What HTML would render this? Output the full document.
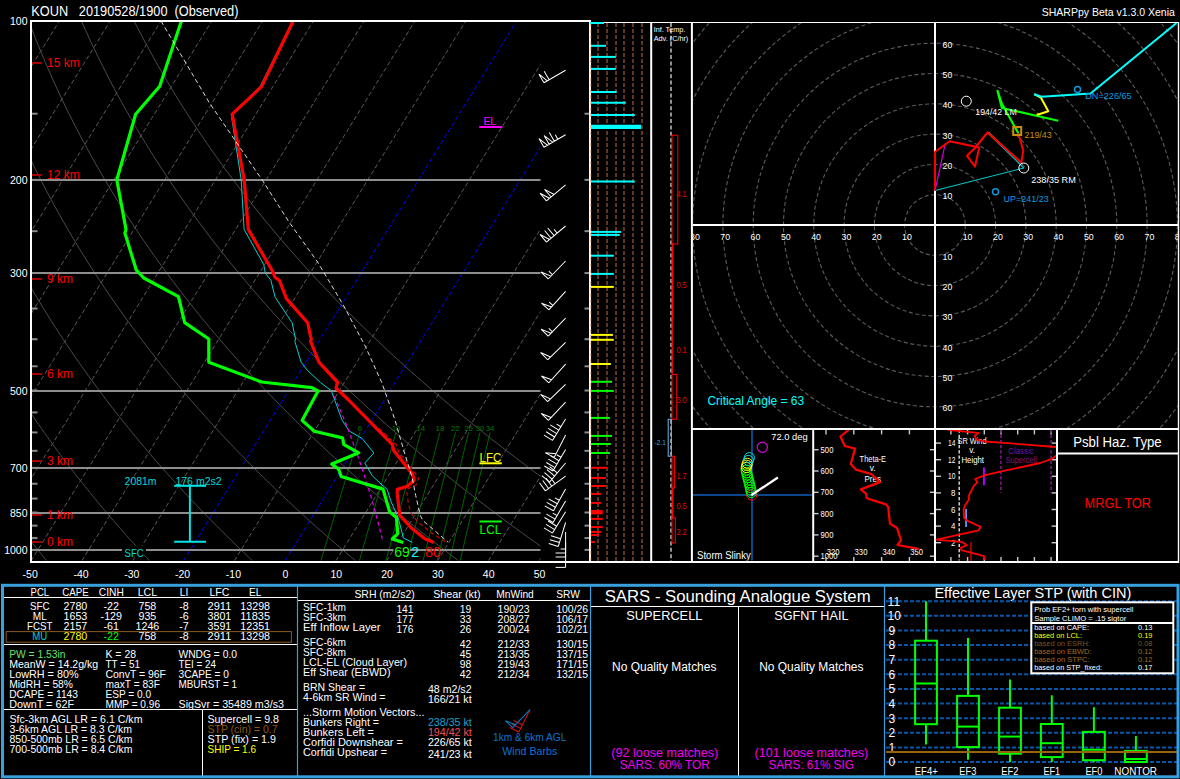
<!DOCTYPE html>
<html><head><meta charset="utf-8"><title>SHARPpy KOUN 20190528/1900</title>
<style>html,body{margin:0;padding:0;background:#000;overflow:hidden}svg{display:block}text{font-family:"Liberation Sans",sans-serif;white-space:pre}</style></head>
<body>
<svg width="1180" height="779" viewBox="0 0 1180 779">
<rect x="0" y="0" width="1180" height="779" fill="#000"/>
<clipPath id="cs"><rect x="32" y="21.5" width="508.5" height="539"/></clipPath>
<clipPath id="cf"><rect x="32" y="21.5" width="557" height="539"/></clipPath>
<g clip-path="url(#cs)">
<line x1="-527.8" y1="561" x2="-194.31" y2="20.5" stroke="#5a5a5a" stroke-width="1" stroke-dasharray="4.5 2.6" />
<line x1="-477" y1="561" x2="-143.51" y2="20.5" stroke="#5a5a5a" stroke-width="1" stroke-dasharray="4.5 2.6" />
<line x1="-426.2" y1="561" x2="-92.71" y2="20.5" stroke="#5a5a5a" stroke-width="1" stroke-dasharray="4.5 2.6" />
<line x1="-375.4" y1="561" x2="-41.91" y2="20.5" stroke="#5a5a5a" stroke-width="1" stroke-dasharray="4.5 2.6" />
<line x1="-324.6" y1="561" x2="8.89" y2="20.5" stroke="#5a5a5a" stroke-width="1" stroke-dasharray="4.5 2.6" />
<line x1="-273.8" y1="561" x2="59.69" y2="20.5" stroke="#5a5a5a" stroke-width="1" stroke-dasharray="4.5 2.6" />
<line x1="-223" y1="561" x2="110.49" y2="20.5" stroke="#5a5a5a" stroke-width="1" stroke-dasharray="4.5 2.6" />
<line x1="-172.2" y1="561" x2="161.29" y2="20.5" stroke="#5a5a5a" stroke-width="1" stroke-dasharray="4.5 2.6" />
<line x1="-121.4" y1="561" x2="212.09" y2="20.5" stroke="#5a5a5a" stroke-width="1" stroke-dasharray="4.5 2.6" />
<line x1="-70.6" y1="561" x2="262.89" y2="20.5" stroke="#5a5a5a" stroke-width="1" stroke-dasharray="4.5 2.6" />
<line x1="-19.8" y1="561" x2="313.69" y2="20.5" stroke="#5a5a5a" stroke-width="1" stroke-dasharray="4.5 2.6" />
<line x1="31" y1="561" x2="364.49" y2="20.5" stroke="#5a5a5a" stroke-width="1" stroke-dasharray="4.5 2.6" />
<line x1="81.8" y1="561" x2="415.29" y2="20.5" stroke="#5a5a5a" stroke-width="1" stroke-dasharray="4.5 2.6" />
<line x1="132.6" y1="561" x2="466.09" y2="20.5" stroke="#5a5a5a" stroke-width="1" stroke-dasharray="4.5 2.6" />
<line x1="183.4" y1="561" x2="516.89" y2="20.5" stroke="#0000ff" stroke-width="1" stroke-dasharray="4.5 2.6" />
<line x1="234.2" y1="561" x2="567.69" y2="20.5" stroke="#5a5a5a" stroke-width="1" stroke-dasharray="4.5 2.6" />
<line x1="285" y1="561" x2="618.49" y2="20.5" stroke="#0000ff" stroke-width="1" stroke-dasharray="4.5 2.6" />
<line x1="335.8" y1="561" x2="669.29" y2="20.5" stroke="#5a5a5a" stroke-width="1" stroke-dasharray="4.5 2.6" />
<line x1="386.6" y1="561" x2="720.09" y2="20.5" stroke="#5a5a5a" stroke-width="1" stroke-dasharray="4.5 2.6" />
<line x1="437.4" y1="561" x2="770.89" y2="20.5" stroke="#5a5a5a" stroke-width="1" stroke-dasharray="4.5 2.6" />
<line x1="488.2" y1="561" x2="821.69" y2="20.5" stroke="#5a5a5a" stroke-width="1" stroke-dasharray="4.5 2.6" />
<line x1="539" y1="561" x2="872.49" y2="20.5" stroke="#5a5a5a" stroke-width="1" stroke-dasharray="4.5 2.6" />
<polyline points="46.86,561.08 45.08,558.88 43.29,556.66 41.49,554.42 39.69,552.15 37.87,549.86 36.05,547.55 34.21,545.22 32.37,542.86 30.52,540.48 28.65,538.07 26.78,535.64 24.9,533.18 23.01,530.69 21.11,528.18 19.2,525.64 17.28,523.07 15.35,520.48 13.41,517.85 11.45,515.19 9.49,512.5 7.52,509.78 5.53,507.03 3.53,504.24 1.53,501.42 -0.49,498.56 -2.52,495.67 -4.57,492.74 -6.62,489.78 -8.69,486.77 -10.77,483.73 -12.86,480.64 -14.97,477.51 -17.09,474.34 -19.22,471.13 -21.36,467.86 -23.52,464.56 -25.7,461.2 -27.88,457.79 -30.09,454.34 -32.3,450.83 -34.53,447.26 -36.78,443.64 -39.04,439.96 -41.32,436.23 -43.61,432.43 -45.92,428.56 -48.24,424.63 -50.59,420.63 -52.95,416.56 -55.32,412.42 -57.72,408.2 -60.13,403.91 -62.56,399.53 -65.01,395.06 -67.47,390.51 -69.96,385.87 -72.47,381.12 -74.99,376.28 -77.54,371.34 -80.1,366.29 -82.69,361.12 -85.3,355.84 -87.93,350.43 -90.58,344.89 -93.26,339.21 -95.95,333.39 -98.67,327.42 -101.42,321.29 -104.19,314.99 -106.98,308.51 -109.79,301.85 -112.63,294.98 -115.49,287.91 -118.38,280.61 -121.3,273.07 -124.23,265.28 -127.2,257.21 -130.18,248.85 -133.19,240.17 -136.23,231.16 -139.28,221.77 -142.36,211.99 -145.45,201.77 -148.56,191.07 -151.69,179.85 -154.83,168.06 -157.97,155.63 -161.11,142.49 -164.25,128.55 -167.36,113.72 -170.44,97.85 -173.47,80.82 -176.43,62.42 -179.27,42.41 -181.96,20.5" fill="none" stroke="#4a4a4a" stroke-width="1" stroke-linejoin="round" />
<polyline points="149.89,561.08 147.83,558.88 145.75,556.66 143.67,554.42 141.58,552.15 139.47,549.86 137.35,547.55 135.23,545.22 133.09,542.86 130.94,540.48 128.78,538.07 126.6,535.64 124.42,533.18 122.22,530.69 120.01,528.18 117.79,525.64 115.55,523.07 113.3,520.48 111.04,517.85 108.77,515.19 106.48,512.5 104.18,509.78 101.86,507.03 99.53,504.24 97.19,501.42 94.83,498.56 92.46,495.67 90.07,492.74 87.67,489.78 85.25,486.77 82.81,483.73 80.36,480.64 77.89,477.51 75.41,474.34 72.91,471.13 70.39,467.86 67.86,464.56 65.3,461.2 62.73,457.79 60.14,454.34 57.53,450.83 54.9,447.26 52.26,443.64 49.59,439.96 46.9,436.23 44.19,432.43 41.46,428.56 38.71,424.63 35.94,420.63 33.14,416.56 30.33,412.42 27.48,408.2 24.62,403.91 21.73,399.53 18.81,395.06 15.87,390.51 12.91,385.87 9.91,381.12 6.89,376.28 3.85,371.34 0.77,366.29 -2.33,361.12 -5.47,355.84 -8.63,350.43 -11.83,344.89 -15.06,339.21 -18.32,333.39 -21.61,327.42 -24.94,321.29 -28.31,314.99 -31.71,308.51 -35.14,301.85 -38.61,294.98 -42.13,287.91 -45.68,280.61 -49.27,273.07 -52.9,265.28 -56.57,257.21 -60.29,248.85 -64.05,240.17 -67.85,231.16 -71.7,221.77 -75.59,211.99 -79.53,201.77 -83.51,191.07 -87.54,179.85 -91.61,168.06 -95.72,155.63 -99.87,142.49 -104.06,128.55 -108.27,113.72 -112.51,97.85 -116.75,80.82 -120.99,62.42 -125.2,42.41 -129.34,20.5" fill="none" stroke="#4a4a4a" stroke-width="1" stroke-linejoin="round" />
<polyline points="252.92,561.08 250.57,558.88 248.22,556.66 245.85,554.42 243.47,552.15 241.07,549.86 238.66,547.55 236.24,545.22 233.81,542.86 231.36,540.48 228.9,538.07 226.42,535.64 223.93,533.18 221.43,530.69 218.91,528.18 216.37,525.64 213.82,523.07 211.26,520.48 208.68,517.85 206.08,515.19 203.47,512.5 200.84,509.78 198.2,507.03 195.53,504.24 192.85,501.42 190.16,498.56 187.44,495.67 184.71,492.74 181.96,489.78 179.19,486.77 176.4,483.73 173.59,480.64 170.76,477.51 167.91,474.34 165.04,471.13 162.15,467.86 159.24,464.56 156.3,461.2 153.35,457.79 150.37,454.34 147.37,450.83 144.34,447.26 141.29,443.64 138.22,439.96 135.12,436.23 132,432.43 128.85,428.56 125.67,424.63 122.47,420.63 119.23,416.56 115.97,412.42 112.68,408.2 109.36,403.91 106.01,399.53 102.63,395.06 99.22,390.51 95.77,385.87 92.29,381.12 88.78,376.28 85.23,371.34 81.65,366.29 78.02,361.12 74.36,355.84 70.66,350.43 66.92,344.89 63.14,339.21 59.31,333.39 55.45,327.42 51.53,321.29 47.57,314.99 43.57,308.51 39.51,301.85 35.4,294.98 31.24,287.91 27.03,280.61 22.76,273.07 18.43,265.28 14.05,257.21 9.6,248.85 5.09,240.17 0.52,231.16 -4.12,221.77 -8.83,211.99 -13.61,201.77 -18.47,191.07 -23.39,179.85 -28.4,168.06 -33.48,155.63 -38.64,142.49 -43.87,128.55 -49.19,113.72 -54.57,97.85 -60.03,80.82 -65.55,62.42 -71.12,42.41 -76.71,20.5" fill="none" stroke="#4a4a4a" stroke-width="1" stroke-linejoin="round" />
<polyline points="355.94,561.08 353.32,558.88 350.68,556.66 348.02,554.42 345.35,552.15 342.67,549.86 339.97,547.55 337.26,545.22 334.53,542.86 331.78,540.48 329.02,538.07 326.24,535.64 323.45,533.18 320.64,530.69 317.81,528.18 314.96,525.64 312.1,523.07 309.22,520.48 306.32,517.85 303.4,515.19 300.46,512.5 297.5,509.78 294.53,507.03 291.53,504.24 288.52,501.42 285.48,498.56 282.42,495.67 279.35,492.74 276.25,489.78 273.12,486.77 269.98,483.73 266.81,480.64 263.62,477.51 260.41,474.34 257.17,471.13 253.9,467.86 250.62,464.56 247.3,461.2 243.96,457.79 240.59,454.34 237.2,450.83 233.78,447.26 230.33,443.64 226.85,439.96 223.34,436.23 219.8,432.43 216.23,428.56 212.63,424.63 208.99,420.63 205.32,416.56 201.62,412.42 197.88,408.2 194.11,403.91 190.3,399.53 186.45,395.06 182.57,390.51 178.64,385.87 174.67,381.12 170.67,376.28 166.62,371.34 162.52,366.29 158.38,361.12 154.19,355.84 149.96,350.43 145.67,344.89 141.34,339.21 136.95,333.39 132.51,327.42 128.01,321.29 123.45,314.99 118.84,308.51 114.16,301.85 109.42,294.98 104.61,287.91 99.74,280.61 94.79,273.07 89.77,265.28 84.67,257.21 79.49,248.85 74.24,240.17 68.89,231.16 63.46,221.77 57.93,211.99 52.31,201.77 46.58,191.07 40.76,179.85 34.82,168.06 28.77,155.63 22.6,142.49 16.31,128.55 9.9,113.72 3.36,97.85 -3.31,80.82 -10.11,62.42 -17.04,42.41 -24.09,20.5" fill="none" stroke="#4a4a4a" stroke-width="1" stroke-linejoin="round" />
<polyline points="458.97,561.08 456.06,558.88 453.14,556.66 450.2,554.42 447.24,552.15 444.27,549.86 441.28,547.55 438.27,545.22 435.25,542.86 432.2,540.48 429.14,538.07 426.06,535.64 422.96,533.18 419.84,530.69 416.71,528.18 413.55,525.64 410.37,523.07 407.17,520.48 403.95,517.85 400.71,515.19 397.45,512.5 394.17,509.78 390.86,507.03 387.53,504.24 384.18,501.42 380.81,498.56 377.41,495.67 373.98,492.74 370.53,489.78 367.06,486.77 363.56,483.73 360.04,480.64 356.48,477.51 352.9,474.34 349.3,471.13 345.66,467.86 342,464.56 338.3,461.2 334.58,457.79 330.82,454.34 327.03,450.83 323.22,447.26 319.36,443.64 315.48,439.96 311.56,436.23 307.6,432.43 303.61,428.56 299.58,424.63 295.52,420.63 291.41,416.56 287.27,412.42 283.08,408.2 278.85,403.91 274.59,399.53 270.27,395.06 265.91,390.51 261.51,385.87 257.05,381.12 252.55,376.28 248,371.34 243.39,366.29 238.74,361.12 234.02,355.84 229.25,350.43 224.43,344.89 219.54,339.21 214.58,333.39 209.57,327.42 204.49,321.29 199.33,314.99 194.11,308.51 188.81,301.85 183.44,294.98 177.98,287.91 172.44,280.61 166.82,273.07 161.1,265.28 155.29,257.21 149.39,248.85 143.38,240.17 137.26,231.16 131.04,221.77 124.69,211.99 118.23,201.77 111.63,191.07 104.91,179.85 98.04,168.06 91.02,155.63 83.84,142.49 76.5,128.55 68.99,113.72 61.29,97.85 53.41,80.82 45.32,62.42 37.03,42.41 28.53,20.5" fill="none" stroke="#4a4a4a" stroke-width="1" stroke-linejoin="round" />
<polyline points="561.99,561.08 558.81,558.88 555.6,556.66 552.38,554.42 549.13,552.15 545.87,549.86 542.59,547.55 539.29,545.22 535.97,542.86 532.63,540.48 529.26,538.07 525.88,535.64 522.48,533.18 519.05,530.69 515.61,528.18 512.14,525.64 508.64,523.07 505.13,520.48 501.59,517.85 498.03,515.19 494.44,512.5 490.83,509.78 487.19,507.03 483.53,504.24 479.84,501.42 476.13,498.56 472.39,495.67 468.62,492.74 464.82,489.78 461,486.77 457.14,483.73 453.26,480.64 449.35,477.51 445.4,474.34 441.43,471.13 437.42,467.86 433.38,464.56 429.3,461.2 425.19,457.79 421.05,454.34 416.87,450.83 412.65,447.26 408.4,443.64 404.11,439.96 399.78,436.23 395.41,432.43 390.99,428.56 386.54,424.63 382.04,420.63 377.5,416.56 372.91,412.42 368.28,408.2 363.6,403.91 358.87,399.53 354.09,395.06 349.26,390.51 344.37,385.87 339.43,381.12 334.44,376.28 329.38,371.34 324.27,366.29 319.09,361.12 313.86,355.84 308.55,350.43 303.18,344.89 297.73,339.21 292.22,333.39 286.63,327.42 280.96,321.29 275.21,314.99 269.38,308.51 263.46,301.85 257.45,294.98 251.35,287.91 245.15,280.61 238.84,273.07 232.44,265.28 225.91,257.21 219.28,248.85 212.52,240.17 205.64,231.16 198.62,221.77 191.46,211.99 184.15,201.77 176.68,191.07 169.05,179.85 161.25,168.06 153.26,155.63 145.08,142.49 136.69,128.55 128.08,113.72 119.23,97.85 110.13,80.82 100.76,62.42 91.11,42.41 81.16,20.5" fill="none" stroke="#4a4a4a" stroke-width="1" stroke-linejoin="round" />
<polyline points="665.02,561.08 661.55,558.88 658.06,556.66 654.55,554.42 651.02,552.15 647.47,549.86 643.9,547.55 640.3,545.22 636.69,542.86 633.05,540.48 629.39,538.07 625.7,535.64 621.99,533.18 618.26,530.69 614.5,528.18 610.72,525.64 606.92,523.07 603.08,520.48 599.23,517.85 595.34,515.19 591.43,512.5 587.49,509.78 583.53,507.03 579.53,504.24 575.51,501.42 571.46,498.56 567.37,495.67 563.26,492.74 559.11,489.78 554.94,486.77 550.73,483.73 546.49,480.64 542.21,477.51 537.9,474.34 533.56,471.13 529.17,467.86 524.76,464.56 520.3,461.2 515.81,457.79 511.28,454.34 506.7,450.83 502.09,447.26 497.43,443.64 492.74,439.96 487.99,436.23 483.21,432.43 478.38,428.56 473.5,424.63 468.57,420.63 463.59,416.56 458.56,412.42 453.48,408.2 448.35,403.91 443.16,399.53 437.91,395.06 432.6,390.51 427.24,385.87 421.81,381.12 416.32,376.28 410.77,371.34 405.14,366.29 399.45,361.12 393.69,355.84 387.85,350.43 381.93,344.89 375.93,339.21 369.85,333.39 363.69,327.42 357.44,321.29 351.09,314.99 344.65,308.51 338.11,301.85 331.47,294.98 324.72,287.91 317.85,280.61 310.87,273.07 303.77,265.28 296.54,257.21 289.17,248.85 281.66,240.17 274.01,231.16 266.2,221.77 258.22,211.99 250.07,201.77 241.73,191.07 233.2,179.85 224.47,168.06 215.51,155.63 206.32,142.49 196.88,128.55 187.16,113.72 177.16,97.85 166.85,80.82 156.2,62.42 145.19,42.41 133.78,20.5" fill="none" stroke="#4a4a4a" stroke-width="1" stroke-linejoin="round" />
<line x1="320.73" y1="561.08" x2="359.94" y2="432.43" stroke="#006400" stroke-width="1" />
<text x="359.94" y="430.63" font-size="7.8" fill="#007800" text-anchor="middle" >6</text>
<line x1="359.3" y1="561.08" x2="396.04" y2="432.43" stroke="#006400" stroke-width="1" />
<text x="396.04" y="430.63" font-size="7.8" fill="#007800" text-anchor="middle" >10</text>
<line x1="385.86" y1="561.08" x2="420.85" y2="432.43" stroke="#006400" stroke-width="1" />
<text x="420.85" y="430.63" font-size="7.8" fill="#007800" text-anchor="middle" >14</text>
<line x1="406.28" y1="561.08" x2="439.91" y2="432.43" stroke="#006400" stroke-width="1" />
<text x="439.91" y="430.63" font-size="7.8" fill="#007800" text-anchor="middle" >18</text>
<line x1="422.95" y1="561.08" x2="455.45" y2="432.43" stroke="#006400" stroke-width="1" />
<text x="455.45" y="430.63" font-size="7.8" fill="#007800" text-anchor="middle" >22</text>
<line x1="437.05" y1="561.08" x2="468.59" y2="432.43" stroke="#006400" stroke-width="1" />
<text x="468.59" y="430.63" font-size="7.8" fill="#007800" text-anchor="middle" >26</text>
<line x1="449.29" y1="561.08" x2="479.98" y2="432.43" stroke="#006400" stroke-width="1" />
<text x="479.98" y="430.63" font-size="7.8" fill="#007800" text-anchor="middle" >30</text>
<line x1="460.11" y1="561.08" x2="490.05" y2="432.43" stroke="#006400" stroke-width="1" />
<text x="490.05" y="430.63" font-size="7.8" fill="#007800" text-anchor="middle" >34</text>
</g>
<line x1="32" y1="180" x2="540.5" y2="180" stroke="#8e8e8e" stroke-width="2" />
<line x1="32" y1="273" x2="540.5" y2="273" stroke="#8e8e8e" stroke-width="2" />
<line x1="32" y1="391" x2="540.5" y2="391" stroke="#8e8e8e" stroke-width="2" />
<line x1="32" y1="468" x2="540.5" y2="468" stroke="#8e8e8e" stroke-width="2" />
<line x1="32" y1="513" x2="540.5" y2="513" stroke="#8e8e8e" stroke-width="2" />
<line x1="32" y1="550" x2="540.5" y2="550" stroke="#8e8e8e" stroke-width="2" />
<line x1="32" y1="113.72" x2="37.5" y2="113.72" stroke="#8c8c8c" stroke-width="2" />
<line x1="584.5" y1="113.72" x2="589" y2="113.72" stroke="#8c8c8c" stroke-width="2" />
<line x1="32" y1="179.85" x2="37.5" y2="179.85" stroke="#8c8c8c" stroke-width="2" />
<line x1="584.5" y1="179.85" x2="589" y2="179.85" stroke="#8c8c8c" stroke-width="2" />
<line x1="32" y1="231.16" x2="37.5" y2="231.16" stroke="#8c8c8c" stroke-width="2" />
<line x1="584.5" y1="231.16" x2="589" y2="231.16" stroke="#8c8c8c" stroke-width="2" />
<line x1="32" y1="273.07" x2="37.5" y2="273.07" stroke="#8c8c8c" stroke-width="2" />
<line x1="584.5" y1="273.07" x2="589" y2="273.07" stroke="#8c8c8c" stroke-width="2" />
<line x1="32" y1="308.51" x2="37.5" y2="308.51" stroke="#8c8c8c" stroke-width="2" />
<line x1="584.5" y1="308.51" x2="589" y2="308.51" stroke="#8c8c8c" stroke-width="2" />
<line x1="32" y1="339.21" x2="37.5" y2="339.21" stroke="#8c8c8c" stroke-width="2" />
<line x1="584.5" y1="339.21" x2="589" y2="339.21" stroke="#8c8c8c" stroke-width="2" />
<line x1="32" y1="366.29" x2="37.5" y2="366.29" stroke="#8c8c8c" stroke-width="2" />
<line x1="584.5" y1="366.29" x2="589" y2="366.29" stroke="#8c8c8c" stroke-width="2" />
<line x1="32" y1="390.51" x2="37.5" y2="390.51" stroke="#8c8c8c" stroke-width="2" />
<line x1="584.5" y1="390.51" x2="589" y2="390.51" stroke="#8c8c8c" stroke-width="2" />
<line x1="32" y1="412.42" x2="37.5" y2="412.42" stroke="#8c8c8c" stroke-width="2" />
<line x1="584.5" y1="412.42" x2="589" y2="412.42" stroke="#8c8c8c" stroke-width="2" />
<line x1="32" y1="432.43" x2="37.5" y2="432.43" stroke="#8c8c8c" stroke-width="2" />
<line x1="584.5" y1="432.43" x2="589" y2="432.43" stroke="#8c8c8c" stroke-width="2" />
<line x1="32" y1="450.83" x2="37.5" y2="450.83" stroke="#8c8c8c" stroke-width="2" />
<line x1="584.5" y1="450.83" x2="589" y2="450.83" stroke="#8c8c8c" stroke-width="2" />
<line x1="32" y1="467.86" x2="37.5" y2="467.86" stroke="#8c8c8c" stroke-width="2" />
<line x1="584.5" y1="467.86" x2="589" y2="467.86" stroke="#8c8c8c" stroke-width="2" />
<line x1="32" y1="483.73" x2="37.5" y2="483.73" stroke="#8c8c8c" stroke-width="2" />
<line x1="584.5" y1="483.73" x2="589" y2="483.73" stroke="#8c8c8c" stroke-width="2" />
<line x1="32" y1="498.56" x2="37.5" y2="498.56" stroke="#8c8c8c" stroke-width="2" />
<line x1="584.5" y1="498.56" x2="589" y2="498.56" stroke="#8c8c8c" stroke-width="2" />
<line x1="32" y1="512.5" x2="37.5" y2="512.5" stroke="#8c8c8c" stroke-width="2" />
<line x1="584.5" y1="512.5" x2="589" y2="512.5" stroke="#8c8c8c" stroke-width="2" />
<line x1="32" y1="525.64" x2="37.5" y2="525.64" stroke="#8c8c8c" stroke-width="2" />
<line x1="584.5" y1="525.64" x2="589" y2="525.64" stroke="#8c8c8c" stroke-width="2" />
<line x1="32" y1="538.07" x2="37.5" y2="538.07" stroke="#8c8c8c" stroke-width="2" />
<line x1="584.5" y1="538.07" x2="589" y2="538.07" stroke="#8c8c8c" stroke-width="2" />
<line x1="32" y1="549.86" x2="37.5" y2="549.86" stroke="#8c8c8c" stroke-width="2" />
<line x1="584.5" y1="549.86" x2="589" y2="549.86" stroke="#8c8c8c" stroke-width="2" />
<text x="27.5" y="24.6" font-size="10.5" fill="#fff" text-anchor="end" >100</text>
<text x="27.5" y="184.3" font-size="10.5" fill="#fff" text-anchor="end" >200</text>
<text x="27.5" y="277.3" font-size="10.5" fill="#fff" text-anchor="end" >300</text>
<text x="27.5" y="395.3" font-size="10.5" fill="#fff" text-anchor="end" >500</text>
<text x="27.5" y="472.3" font-size="10.5" fill="#fff" text-anchor="end" >700</text>
<text x="27.5" y="517.3" font-size="10.5" fill="#fff" text-anchor="end" >850</text>
<text x="27.5" y="554.3" font-size="10.5" fill="#fff" text-anchor="end" >1000</text>
<text x="30.2" y="577.5" font-size="10.5" fill="#fff" text-anchor="middle" >-50</text>
<text x="81" y="577.5" font-size="10.5" fill="#fff" text-anchor="middle" >-40</text>
<text x="131.8" y="577.5" font-size="10.5" fill="#fff" text-anchor="middle" >-30</text>
<text x="182.6" y="577.5" font-size="10.5" fill="#fff" text-anchor="middle" >-20</text>
<text x="233.4" y="577.5" font-size="10.5" fill="#fff" text-anchor="middle" >-10</text>
<text x="285.5" y="577.5" font-size="10.5" fill="#fff" text-anchor="middle" >0</text>
<text x="336.3" y="577.5" font-size="10.5" fill="#fff" text-anchor="middle" >10</text>
<text x="387.1" y="577.5" font-size="10.5" fill="#fff" text-anchor="middle" >20</text>
<text x="437.9" y="577.5" font-size="10.5" fill="#fff" text-anchor="middle" >30</text>
<text x="488.7" y="577.5" font-size="10.5" fill="#fff" text-anchor="middle" >40</text>
<text x="539.5" y="577.5" font-size="10.5" fill="#fff" text-anchor="middle" >50</text>
<line x1="32" y1="542" x2="42" y2="542" stroke="#a80000" stroke-width="2" />
<text x="47" y="546" font-size="12" fill="#ff0000" >0 km</text>
<line x1="32" y1="515" x2="42" y2="515" stroke="#a80000" stroke-width="2" />
<text x="47" y="519" font-size="12" fill="#ff0000" >1 km</text>
<line x1="32" y1="461" x2="42" y2="461" stroke="#a80000" stroke-width="2" />
<text x="47" y="465" font-size="12" fill="#ff0000" >3 km</text>
<line x1="32" y1="374" x2="42" y2="374" stroke="#a80000" stroke-width="2" />
<text x="47" y="378" font-size="12" fill="#ff0000" >6 km</text>
<line x1="32" y1="279" x2="42" y2="279" stroke="#a80000" stroke-width="2" />
<text x="47" y="283" font-size="12" fill="#ff0000" >9 km</text>
<line x1="32" y1="175" x2="42" y2="175" stroke="#a80000" stroke-width="2" />
<text x="47" y="179" font-size="12" fill="#ff0000" >12 km</text>
<line x1="32" y1="63" x2="42" y2="63" stroke="#a80000" stroke-width="2" />
<text x="47" y="67" font-size="12" fill="#ff0000" >15 km</text>
<g clip-path="url(#cf)">
<line x1="174.2" y1="485.8" x2="206" y2="485.8" stroke="#00e6e6" stroke-width="2" />
<line x1="174.2" y1="541.7" x2="206" y2="541.7" stroke="#00e6e6" stroke-width="2" />
<line x1="189.9" y1="485.8" x2="189.9" y2="541.7" stroke="#00e6e6" stroke-width="2" />
<text x="124.6" y="484.6" font-size="10" fill="#00d8d8" textLength="31.8" lengthAdjust="spacingAndGlyphs" >2081m</text>
<text x="175.4" y="484.6" font-size="10" fill="#00d8d8" textLength="46.3" lengthAdjust="spacingAndGlyphs" >176 m2s2</text>
<rect x="122" y="546" width="24" height="9" fill="#000" stroke="none" stroke-width="1" />
<text x="124.6" y="556.8" font-size="10" fill="#00d8d8" textLength="19.1" lengthAdjust="spacingAndGlyphs" >SFC</text>
<polyline points="292,22 260,86.7 231.2,114.2 241.2,180 244.1,229.4 263.8,264.7 265.3,273.2 270.9,280.3 275.1,297.2 292.1,322.7 295.5,339 294.9,341.6 301.1,362.2 307.1,370 320.5,382.6 331.3,390.7 334.9,400.5 342.1,420.3 349.3,431.1 361.9,438.3 373.8,453 364.8,463 372.2,475.7 380,483.1 387.2,489.4 390.8,501.1 398,517.2 403.4,537.9 412.3,542.4" fill="none" stroke="#00d0d0" stroke-width="1" stroke-linejoin="round" />
<polyline points="334.5,396.2 347.9,428.5 361.4,466.2 370.8,495.9 378.9,525.5 383,541.7" fill="none" stroke="#e000e0" stroke-width="1.2" stroke-linejoin="round" stroke-dasharray="4 3" />
<polyline points="379,428.5 383,432 396.5,445 398.6,451.7 414.6,472.4 418.6,477.8 416,485 408,488.6 406.6,491 408.5,504.5 411.2,513.5 417.5,521.5 431.9,533.2 446.3,542.2" fill="none" stroke="#d00000" stroke-width="1.2" stroke-linejoin="round" stroke-dasharray="4 3" />
<polyline points="181.4,21 159.7,86.2 135.6,114.2 116.8,180 126,229.4 124.9,233.1 136.2,269.8 143.8,278 178.5,296.7 184.7,322.7 208.8,339 208.8,362.2 261.6,382 311.9,387.6 318,391 302.1,420.4 314.3,431.2 342.5,437.9 343.9,444.7 358.7,452.8 331.8,464.1 338.5,468.9 341.2,476.5 383,489.1 389.7,512 396.4,517.4 397.8,533.6 392.4,539 403.2,542.5" fill="none" stroke="#00ff00" stroke-width="3.2" stroke-linejoin="round" />
<polyline points="293.2,21 261.5,86.7 232.2,114.2 244.2,180 248.3,229.4 272.9,271.8 275.1,277.5 279.4,280.3 286.4,298.6 307.6,322.7 311.3,339.6 310.5,341 318.9,362.2 337.5,382.3 336,388 348.6,400 392.4,444.7 393.7,450.6 412.6,474.3 414,480.2 407.5,486.2 397.3,489.4 397.2,493.9 399.8,515.4 411.4,528 424.9,538.8 433.9,542.4" fill="none" stroke="#ff0000" stroke-width="3.2" stroke-linejoin="round" />
<polyline points="161,21 209.3,102.7 262.5,180.5 289.3,222.4 317.5,261.9 342.9,304.3 365.5,346.7 381.6,382.2 387.6,398.9 395,420 398.6,432.6 404.9,454.1 412.1,477.5 415.7,495.5 420.2,515.3 422.9,520.6 435.5,531.4 448.1,542.2" fill="none" stroke="#f0f0f0" stroke-width="0.9" stroke-linejoin="round" stroke-dasharray="4.5 3" />
<text x="483.4" y="125.4" font-size="11.5" fill="#ff00ff" textLength="12.8" lengthAdjust="spacingAndGlyphs" >EL</text>
<line x1="479.2" y1="127" x2="502.3" y2="127" stroke="#ff00ff" stroke-width="2" />
<text x="479.6" y="462" font-size="12" fill="#ffff00" textLength="21.7" lengthAdjust="spacingAndGlyphs" >LFC</text>
<line x1="479.4" y1="463.3" x2="501.8" y2="463.3" stroke="#ffff00" stroke-width="2" />
<line x1="479.4" y1="521.5" x2="501.8" y2="521.5" stroke="#00ff00" stroke-width="2" />
<text x="479.6" y="533.6" font-size="12" fill="#00ff00" textLength="21.7" lengthAdjust="spacingAndGlyphs" >LCL</text>
<text x="403.5" y="556.5" font-size="14" fill="#00ffff" >72</text>
<rect x="393.5" y="545" width="16.5" height="13" fill="#000" stroke="none" stroke-width="1" />
<text x="394.3" y="556.5" font-size="14" fill="#00ff00" >69</text>
<text x="425.3" y="556.5" font-size="14" fill="#ff0000" >80</text>
</g>
<path d="M0,0L25,0M25,0L25,10L21,0M19,0L19,10" fill="none" stroke="#ffffff" stroke-width="1" transform="translate(565.6,70.3) rotate(150) scale(1)"/>
<path d="M0,0L25,0M25,0L25,10L21,0M19,0L19,10L15,0M13,0L13,10M9,0L9,5" fill="none" stroke="#ffffff" stroke-width="1" transform="translate(565.6,134.7) rotate(150) scale(1)"/>
<path d="M0,0L25,0M25,0L25,10L21,0M19,0L19,10L15,0" fill="none" stroke="#ffffff" stroke-width="1" transform="translate(565.6,184.8) rotate(140) scale(1)"/>
<path d="M0,0L25,0M25,0L25,10L21,0M19,0L19,10M15,0L15,10M11,0L11,5" fill="none" stroke="#ffffff" stroke-width="1" transform="translate(565.6,226) rotate(140) scale(1)"/>
<path d="M0,0L25,0M25,0L25,10L21,0M19,0L19,5" fill="none" stroke="#ffffff" stroke-width="1" transform="translate(565.6,261) rotate(134) scale(1)"/>
<path d="M0,0L25,0M25,0L25,10L21,0M19,0L19,5" fill="none" stroke="#ffffff" stroke-width="1" transform="translate(565.6,291.3) rotate(132) scale(1)"/>
<path d="M0,0L25,0M25,0L25,10L21,0M19,0L19,5" fill="none" stroke="#ffffff" stroke-width="1" transform="translate(565.6,318.1) rotate(134) scale(1)"/>
<path d="M0,0L25,0M25,0L25,10L21,0" fill="none" stroke="#ffffff" stroke-width="1" transform="translate(565.6,342.4) rotate(136) scale(1)"/>
<path d="M0,0L25,0M25,0L25,10L21,0" fill="none" stroke="#ffffff" stroke-width="1" transform="translate(565.6,364.2) rotate(132) scale(1)"/>
<path d="M0,0L25,0M25,0L25,10L21,0" fill="none" stroke="#ffffff" stroke-width="1" transform="translate(565.6,384.3) rotate(136) scale(1)"/>
<path d="M0,0L25,0M25,0L25,10L21,0" fill="none" stroke="#ffffff" stroke-width="1" transform="translate(565.6,402.2) rotate(133.5) scale(1)"/>
<path d="M0,0L25,0M25,0L25,10M21,0L21,10M17,0L17,10M13,0L13,10M9,0L9,5" fill="none" stroke="#ffffff" stroke-width="1" transform="translate(565.6,419.1) rotate(121.6) scale(1)"/>
<path d="M0,0L25,0M25,0L25,10L21,0" fill="none" stroke="#ffffff" stroke-width="1" transform="translate(565.6,435.1) rotate(117) scale(1)"/>
<path d="M0,0L25,0M25,0L25,10M21,0L21,10M17,0L17,10M13,0L13,10M9,0L9,5" fill="none" stroke="#ffffff" stroke-width="1" transform="translate(565.6,449.5) rotate(120.5) scale(1)"/>
<path d="M0,0L25,0M25,0L25,10M21,0L21,10M17,0L17,10M13,0L13,10" fill="none" stroke="#ffffff" stroke-width="1" transform="translate(565.6,463) rotate(130) scale(1)"/>
<path d="M0,0L25,0M25,0L25,10M21,0L21,10M17,0L17,10M13,0L13,5" fill="none" stroke="#ffffff" stroke-width="1" transform="translate(565.6,476.2) rotate(144) scale(1)"/>
<path d="M0,0L25,0M25,0L25,10M21,0L21,10M17,0L17,10M13,0L13,5" fill="none" stroke="#ffffff" stroke-width="1" transform="translate(565.6,488.9) rotate(119) scale(1)"/>
<path d="M0,0L25,0M25,0L25,10M21,0L21,10M17,0L17,5" fill="none" stroke="#ffffff" stroke-width="1" transform="translate(565.6,500.9) rotate(120) scale(1)"/>
<path d="M0,0L25,0M25,0L25,10M21,0L21,10M17,0L17,10" fill="none" stroke="#ffffff" stroke-width="1" transform="translate(565.6,511.8) rotate(121.6) scale(1)"/>
<path d="M0,0L25,0M25,0L25,10M21,0L21,10M17,0L17,10" fill="none" stroke="#ffffff" stroke-width="1" transform="translate(565.6,522.5) rotate(107) scale(1)"/>
<path d="M0,0L25,0M25,0L25,10M21,0L21,10M17,0L17,5" fill="none" stroke="#ffffff" stroke-width="1" transform="translate(565.6,532) rotate(90) scale(1)"/>
<path d="M0,0L25,0M25,0L25,10" fill="none" stroke="#ffffff" stroke-width="1" transform="translate(565.6,542.4) rotate(90) scale(1)"/>
<line x1="31" y1="20" x2="31" y2="562.7" stroke="#fff" stroke-width="2" />
<line x1="30" y1="21" x2="591" y2="21" stroke="#fff" stroke-width="2" />
<line x1="590" y1="20" x2="590" y2="562.7" stroke="#fff" stroke-width="2" />
<line x1="30" y1="562" x2="1179" y2="562" stroke="#fff" stroke-width="2" />
<line x1="590" y1="22.5" x2="1179" y2="22.5" stroke="#fff" stroke-width="1.2" />
<line x1="590.7" y1="23" x2="590.7" y2="561" stroke="#e8b090" stroke-width="0.9" stroke-dasharray="4 2" />
<line x1="598" y1="23" x2="598" y2="561" stroke="#603622" stroke-width="2" stroke-dasharray="4 2" />
<line x1="607" y1="23" x2="607" y2="561" stroke="#603622" stroke-width="2" stroke-dasharray="4 2" />
<line x1="616" y1="23" x2="616" y2="561" stroke="#603622" stroke-width="2" stroke-dasharray="4 2" />
<line x1="624" y1="23" x2="624" y2="561" stroke="#603622" stroke-width="2" stroke-dasharray="4 2" />
<line x1="633" y1="23" x2="633" y2="561" stroke="#603622" stroke-width="2" stroke-dasharray="4 2" />
<line x1="642" y1="23" x2="642" y2="561" stroke="#603622" stroke-width="2" stroke-dasharray="4 2" />
<line x1="591" y1="45.8" x2="606" y2="45.8" stroke="#00ffff" stroke-width="2" />
<line x1="591" y1="56.9" x2="615.9" y2="56.9" stroke="#00ffff" stroke-width="2" />
<line x1="591" y1="68.9" x2="615.9" y2="68.9" stroke="#00ffff" stroke-width="2" />
<line x1="591" y1="92" x2="616.6" y2="92" stroke="#00ffff" stroke-width="2" />
<line x1="591" y1="102.8" x2="625.8" y2="102.8" stroke="#00ffff" stroke-width="2" />
<line x1="591" y1="114.9" x2="634.8" y2="114.9" stroke="#00ffff" stroke-width="2" />
<line x1="591" y1="181.4" x2="634.8" y2="181.4" stroke="#00ffff" stroke-width="2" />
<line x1="591" y1="231.9" x2="621" y2="231.9" stroke="#00ffff" stroke-width="2" />
<line x1="591" y1="234.9" x2="619.8" y2="234.9" stroke="#00ffff" stroke-width="2" />
<line x1="591" y1="255.7" x2="613.8" y2="255.7" stroke="#00ffff" stroke-width="2" />
<line x1="591" y1="273.9" x2="613.8" y2="273.9" stroke="#00ffff" stroke-width="2" />
<line x1="591" y1="286.9" x2="613.8" y2="286.9" stroke="#ffff00" stroke-width="2" />
<line x1="591" y1="334.9" x2="612.9" y2="334.9" stroke="#ffff00" stroke-width="2" />
<line x1="591" y1="339.8" x2="613.8" y2="339.8" stroke="#ffff00" stroke-width="2" />
<line x1="591" y1="364" x2="610.8" y2="364" stroke="#ffff00" stroke-width="2" />
<line x1="591" y1="381.8" x2="612" y2="381.8" stroke="#00ff00" stroke-width="2" />
<line x1="591" y1="390.9" x2="613.8" y2="390.9" stroke="#00ff00" stroke-width="2" />
<line x1="591" y1="417.9" x2="609.9" y2="417.9" stroke="#00ff00" stroke-width="2" />
<line x1="591" y1="435.9" x2="612" y2="435.9" stroke="#00ff00" stroke-width="2" />
<line x1="591" y1="444" x2="610.8" y2="444" stroke="#00ff00" stroke-width="2" />
<line x1="591" y1="453" x2="609.9" y2="453" stroke="#00ff00" stroke-width="2" />
<line x1="591" y1="467.8" x2="606.9" y2="467.8" stroke="#ff0000" stroke-width="2" />
<line x1="591" y1="478" x2="606" y2="478" stroke="#ff0000" stroke-width="2" />
<line x1="591" y1="486" x2="606" y2="486" stroke="#ff0000" stroke-width="2" />
<line x1="591" y1="493.9" x2="600.9" y2="493.9" stroke="#ff0000" stroke-width="2" />
<line x1="591" y1="502.9" x2="600.9" y2="502.9" stroke="#ff0000" stroke-width="2" />
<line x1="591" y1="518.9" x2="602.7" y2="518.9" stroke="#ff0000" stroke-width="2" />
<line x1="591" y1="527" x2="602.7" y2="527" stroke="#ff0000" stroke-width="2" />
<line x1="591" y1="532" x2="600.9" y2="532" stroke="#ff0000" stroke-width="2" />
<line x1="591" y1="535" x2="598.8" y2="535" stroke="#ff0000" stroke-width="2" />
<line x1="591" y1="542" x2="594.9" y2="542" stroke="#ff0000" stroke-width="2" />
<line x1="591" y1="126.9" x2="641" y2="126.9" stroke="#00ffff" stroke-width="4.4" />
<line x1="591" y1="512.2" x2="602.7" y2="512.2" stroke="#ff0000" stroke-width="4.4" />
<line x1="590" y1="23" x2="604" y2="23" stroke="#00ffff" stroke-width="2" />
<line x1="651.2" y1="22" x2="651.2" y2="562" stroke="#fff" stroke-width="2" />
<line x1="671" y1="23" x2="671" y2="561" stroke="#a0a0a0" stroke-width="1.8" stroke-dasharray="4 2.4" />
<rect x="672" y="135.2" width="5.8" height="108.7" fill="none" stroke="#ff0000" stroke-width="1" />
<text x="676.4" y="196.7" font-size="8.5" fill="#f00000" textLength="10.2" lengthAdjust="spacingAndGlyphs" >4.1</text>
<rect x="672" y="243.9" width="0.9" height="74.4" fill="none" stroke="#ff0000" stroke-width="1" />
<text x="676.4" y="287.8" font-size="8.5" fill="#f00000" textLength="10.2" lengthAdjust="spacingAndGlyphs" >0.5</text>
<rect x="672" y="318.3" width="0.4" height="56.1" fill="none" stroke="#ff0000" stroke-width="1" />
<text x="676.4" y="352.5" font-size="8.5" fill="#f00000" textLength="10.2" lengthAdjust="spacingAndGlyphs" >0.1</text>
<rect x="672" y="374.4" width="4.7" height="44.9" fill="none" stroke="#ff0000" stroke-width="1" />
<text x="676.4" y="402.6" font-size="8.5" fill="#f00000" textLength="10.2" lengthAdjust="spacingAndGlyphs" >3.0</text>
<rect x="668.2" y="419.3" width="3.2" height="36.9" fill="none" stroke="#6cb8ee" stroke-width="1" />
<text x="654.7" y="444.7" font-size="8" fill="#3fa0e0" textLength="11.3" lengthAdjust="spacingAndGlyphs" >-2.1</text>
<rect x="672" y="456.2" width="2.4" height="31.9" fill="none" stroke="#ff0000" stroke-width="1" />
<text x="676.4" y="478.9" font-size="8.5" fill="#f00000" textLength="10.2" lengthAdjust="spacingAndGlyphs" >1.7</text>
<rect x="672" y="488.1" width="0.9" height="29.8" fill="none" stroke="#ff0000" stroke-width="1" />
<text x="676.4" y="509.4" font-size="8.5" fill="#f00000" textLength="10.2" lengthAdjust="spacingAndGlyphs" >0.5</text>
<rect x="672" y="517.9" width="3.3" height="25" fill="none" stroke="#ff0000" stroke-width="1" />
<text x="676.4" y="535.3" font-size="8.5" fill="#f00000" textLength="10.2" lengthAdjust="spacingAndGlyphs" >2.2</text>
<text x="653.7" y="31.5" font-size="7.5" fill="#fff" textLength="31.6" lengthAdjust="spacingAndGlyphs" >Inf. Temp.</text>
<text x="653.7" y="40.7" font-size="7.5" fill="#fff" textLength="34.6" lengthAdjust="spacingAndGlyphs" >Adv. (C/hr)</text>
<line x1="691.9" y1="22" x2="691.9" y2="562" stroke="#fff" stroke-width="2" />
<clipPath id="ch"><rect x="693" y="23" width="485" height="405"/></clipPath>
<g clip-path="url(#ch)">
<circle cx="935" cy="225" r="30.3" fill="none" stroke="#5c5c5c" stroke-width="1.1" stroke-dasharray="4 2.6"/>
<circle cx="935" cy="225" r="60.6" fill="none" stroke="#5c5c5c" stroke-width="1.1" stroke-dasharray="4 2.6"/>
<circle cx="935" cy="225" r="90.9" fill="none" stroke="#5c5c5c" stroke-width="1.1" stroke-dasharray="4 2.6"/>
<circle cx="935" cy="225" r="121.2" fill="none" stroke="#5c5c5c" stroke-width="1.1" stroke-dasharray="4 2.6"/>
<circle cx="935" cy="225" r="151.5" fill="none" stroke="#5c5c5c" stroke-width="1.1" stroke-dasharray="4 2.6"/>
<circle cx="935" cy="225" r="181.8" fill="none" stroke="#5c5c5c" stroke-width="1.1" stroke-dasharray="4 2.6"/>
<circle cx="935" cy="225" r="212.1" fill="none" stroke="#5c5c5c" stroke-width="1.1" stroke-dasharray="4 2.6"/>
<circle cx="935" cy="225" r="242.4" fill="none" stroke="#5c5c5c" stroke-width="1.1" stroke-dasharray="4 2.6"/>
<circle cx="935" cy="225" r="272.7" fill="none" stroke="#5c5c5c" stroke-width="1.1" stroke-dasharray="4 2.6"/>
<circle cx="935" cy="225" r="303" fill="none" stroke="#5c5c5c" stroke-width="1.1" stroke-dasharray="4 2.6"/>
<circle cx="935" cy="225" r="333.3" fill="none" stroke="#5c5c5c" stroke-width="1.1" stroke-dasharray="4 2.6"/>
<circle cx="935" cy="225" r="363.6" fill="none" stroke="#5c5c5c" stroke-width="1.1" stroke-dasharray="4 2.6"/>
<circle cx="935" cy="225" r="393.9" fill="none" stroke="#5c5c5c" stroke-width="1.1" stroke-dasharray="4 2.6"/>
<line x1="935" y1="22" x2="935" y2="428" stroke="#fff" stroke-width="2" />
<line x1="692" y1="225" x2="1178" y2="225" stroke="#fff" stroke-width="2" />
<text x="902.1" y="240.2" font-size="9.5" fill="#fff" textLength="9.8" lengthAdjust="spacingAndGlyphs" >10</text>
<text x="962.7" y="240.2" font-size="9.5" fill="#fff" textLength="9.8" lengthAdjust="spacingAndGlyphs" >10</text>
<text x="942.5" y="199.2" font-size="9.5" fill="#fff" textLength="9.8" lengthAdjust="spacingAndGlyphs" >10</text>
<text x="942.5" y="259.8" font-size="9.5" fill="#fff" textLength="9.8" lengthAdjust="spacingAndGlyphs" >10</text>
<text x="871.8" y="240.2" font-size="9.5" fill="#fff" textLength="9.8" lengthAdjust="spacingAndGlyphs" >20</text>
<text x="993" y="240.2" font-size="9.5" fill="#fff" textLength="9.8" lengthAdjust="spacingAndGlyphs" >20</text>
<text x="942.5" y="168.9" font-size="9.5" fill="#fff" textLength="9.8" lengthAdjust="spacingAndGlyphs" >20</text>
<text x="942.5" y="290.1" font-size="9.5" fill="#fff" textLength="9.8" lengthAdjust="spacingAndGlyphs" >20</text>
<text x="841.5" y="240.2" font-size="9.5" fill="#fff" textLength="9.8" lengthAdjust="spacingAndGlyphs" >30</text>
<text x="1023.3" y="240.2" font-size="9.5" fill="#fff" textLength="9.8" lengthAdjust="spacingAndGlyphs" >30</text>
<text x="942.5" y="138.6" font-size="9.5" fill="#fff" textLength="9.8" lengthAdjust="spacingAndGlyphs" >30</text>
<text x="942.5" y="320.4" font-size="9.5" fill="#fff" textLength="9.8" lengthAdjust="spacingAndGlyphs" >30</text>
<text x="811.2" y="240.2" font-size="9.5" fill="#fff" textLength="9.8" lengthAdjust="spacingAndGlyphs" >40</text>
<text x="1053.6" y="240.2" font-size="9.5" fill="#fff" textLength="9.8" lengthAdjust="spacingAndGlyphs" >40</text>
<text x="942.5" y="108.3" font-size="9.5" fill="#fff" textLength="9.8" lengthAdjust="spacingAndGlyphs" >40</text>
<text x="942.5" y="350.7" font-size="9.5" fill="#fff" textLength="9.8" lengthAdjust="spacingAndGlyphs" >40</text>
<text x="780.9" y="240.2" font-size="9.5" fill="#fff" textLength="9.8" lengthAdjust="spacingAndGlyphs" >50</text>
<text x="1083.9" y="240.2" font-size="9.5" fill="#fff" textLength="9.8" lengthAdjust="spacingAndGlyphs" >50</text>
<text x="942.5" y="78" font-size="9.5" fill="#fff" textLength="9.8" lengthAdjust="spacingAndGlyphs" >50</text>
<text x="942.5" y="381" font-size="9.5" fill="#fff" textLength="9.8" lengthAdjust="spacingAndGlyphs" >50</text>
<text x="750.6" y="240.2" font-size="9.5" fill="#fff" textLength="9.8" lengthAdjust="spacingAndGlyphs" >60</text>
<text x="1114.2" y="240.2" font-size="9.5" fill="#fff" textLength="9.8" lengthAdjust="spacingAndGlyphs" >60</text>
<text x="942.5" y="47.7" font-size="9.5" fill="#fff" textLength="9.8" lengthAdjust="spacingAndGlyphs" >60</text>
<text x="942.5" y="411.3" font-size="9.5" fill="#fff" textLength="9.8" lengthAdjust="spacingAndGlyphs" >60</text>
<text x="720.3" y="240.2" font-size="9.5" fill="#fff" textLength="9.8" lengthAdjust="spacingAndGlyphs" >70</text>
<text x="1144.5" y="240.2" font-size="9.5" fill="#fff" textLength="9.8" lengthAdjust="spacingAndGlyphs" >70</text>
<text x="690" y="240.2" font-size="9.5" fill="#fff" textLength="9.8" lengthAdjust="spacingAndGlyphs" >80</text>
<text x="1174.8" y="240.2" font-size="9.5" fill="#fff" textLength="9.8" lengthAdjust="spacingAndGlyphs" >80</text>
<line x1="1023.8" y1="168" x2="935" y2="190.5" stroke="#00c8c8" stroke-width="1.1" />
<line x1="1023.8" y1="168" x2="987.5" y2="132.5" stroke="#00c8c8" stroke-width="1.1" />
<line x1="989" y1="132" x2="1024.8" y2="167" stroke="#909090" stroke-width="0.8" />
<line x1="935" y1="190.8" x2="945.3" y2="143.3" stroke="#e000e0" stroke-width="1.1" />
<polyline points="935,190.8 935,151.7 949.7,141.3 979.2,147.5 975,166.7 967,155.8 975,148 987.5,132.5 1021.3,162.5 1023.3,150.8 1018.3,133.3" fill="none" stroke="#ff0000" stroke-width="2" stroke-linejoin="round" />
<polyline points="1018.3,133.3 1001.7,103.3 997.5,90.8 1001.9,108 1058.3,120.8" fill="none" stroke="#00ff00" stroke-width="2.2" stroke-linejoin="round" />
<polyline points="1036.7,115 1048.3,111.3 1040.8,97.5 1034.2,94.2" fill="none" stroke="#ffff00" stroke-width="2" stroke-linejoin="round" />
<polyline points="1034.2,94.2 1041.7,96.7 1090.5,93.6 1176.5,23" fill="none" stroke="#00ffff" stroke-width="2" stroke-linejoin="round" />
<circle cx="966.3" cy="101.2" r="5" fill="none" stroke="#fff" stroke-width="1"/>
<circle cx="1023.8" cy="168" r="5" fill="none" stroke="#fff" stroke-width="1"/>
<text x="975.3" y="115" font-size="9.5" fill="#fff" textLength="41.4" lengthAdjust="spacingAndGlyphs" >194/42 LM</text>
<text x="1031.2" y="182.5" font-size="9.5" fill="#fff" textLength="44.6" lengthAdjust="spacingAndGlyphs" >238/35 RM</text>
<rect x="1013.2" y="127" width="8" height="8" fill="none" stroke="#c8900a" stroke-width="2" />
<text x="1024.5" y="137.5" font-size="9.5" fill="#c8900a" textLength="27.2" lengthAdjust="spacingAndGlyphs" >219/43</text>
<circle cx="1077.5" cy="89.5" r="3" fill="none" stroke="#0a9ce0" stroke-width="1.4"/>
<text x="1085.3" y="99.4" font-size="9.5" fill="#0a9ce0" textLength="46.3" lengthAdjust="spacingAndGlyphs" >DN=226/65</text>
<circle cx="995.5" cy="191.7" r="3" fill="none" stroke="#0a9ce0" stroke-width="1.4"/>
<text x="1003.5" y="201.9" font-size="9.5" fill="#0a9ce0" textLength="45.2" lengthAdjust="spacingAndGlyphs" >UP=241/23</text>
<text x="707.4" y="404.6" font-size="12" fill="#00ffff" textLength="96.8" lengthAdjust="spacingAndGlyphs" >Critical Angle = 63</text>
</g>
<line x1="1178.5" y1="22" x2="1178.5" y2="562.7" stroke="#fff" stroke-width="1.4" />
<clipPath id="csl"><rect x="693" y="429.5" width="119" height="131"/></clipPath>
<g clip-path="url(#csl)">
<line x1="752" y1="429" x2="752" y2="562" stroke="#0a468c" stroke-width="2" />
<line x1="692" y1="495" x2="813" y2="495" stroke="#0a468c" stroke-width="2" />
<circle cx="751.7" cy="495" r="5.1" fill="none" stroke="#ff0000" stroke-width="1"/>
<circle cx="751.3" cy="492.5" r="5.1" fill="none" stroke="#00ff00" stroke-width="1"/>
<circle cx="750.8" cy="490" r="5.1" fill="none" stroke="#00ff00" stroke-width="1"/>
<circle cx="750.3" cy="487.5" r="5.1" fill="none" stroke="#00ff00" stroke-width="1"/>
<circle cx="749.7" cy="485" r="5.1" fill="none" stroke="#00ff00" stroke-width="1"/>
<circle cx="749.1" cy="482.5" r="5.1" fill="none" stroke="#00ff00" stroke-width="1"/>
<circle cx="748.5" cy="480" r="5.1" fill="none" stroke="#00ff00" stroke-width="1"/>
<circle cx="747.8" cy="477.5" r="5.1" fill="none" stroke="#00ff00" stroke-width="1"/>
<circle cx="747.2" cy="475" r="5.1" fill="none" stroke="#00ff00" stroke-width="1"/>
<circle cx="746.6" cy="472.5" r="5.1" fill="none" stroke="#00ff00" stroke-width="1"/>
<circle cx="746.1" cy="470.1" r="5.1" fill="none" stroke="#00ff00" stroke-width="1"/>
<circle cx="746.3" cy="467.5" r="5.1" fill="none" stroke="#ffff00" stroke-width="1"/>
<circle cx="746.8" cy="465.3" r="5.1" fill="none" stroke="#ffff00" stroke-width="1"/>
<circle cx="747.3" cy="463.3" r="5.1" fill="none" stroke="#ffff00" stroke-width="1"/>
<circle cx="748.3" cy="460.5" r="5.1" fill="none" stroke="#00e0e0" stroke-width="1"/>
<circle cx="749.3" cy="457.7" r="5.1" fill="none" stroke="#00e0e0" stroke-width="1"/>
<circle cx="762.3" cy="447.3" r="5.1" fill="none" stroke="#e000e0" stroke-width="1.2"/>
<line x1="751.2" y1="495.2" x2="777.9" y2="477.5" stroke="#fff" stroke-width="2.3" />
<text x="771.2" y="439.8" font-size="9.5" fill="#fff" textLength="36.4" lengthAdjust="spacingAndGlyphs" >72.0 deg</text>
<text x="697.1" y="559.4" font-size="10" fill="#fff" textLength="53.6" lengthAdjust="spacingAndGlyphs" >Storm Slinky</text>
</g>
<line x1="814" y1="449.7" x2="818.6" y2="449.7" stroke="#c8c8c8" stroke-width="1.4" />
<line x1="929.8" y1="449.7" x2="934" y2="449.7" stroke="#c8c8c8" stroke-width="1.4" />
<text x="820.6" y="452.8" font-size="8.3" fill="#fff" textLength="12.8" lengthAdjust="spacingAndGlyphs" >500</text>
<line x1="814" y1="471" x2="818.6" y2="471" stroke="#c8c8c8" stroke-width="1.4" />
<line x1="929.8" y1="471" x2="934" y2="471" stroke="#c8c8c8" stroke-width="1.4" />
<text x="820.6" y="474.1" font-size="8.3" fill="#fff" textLength="12.8" lengthAdjust="spacingAndGlyphs" >600</text>
<line x1="814" y1="492.3" x2="818.6" y2="492.3" stroke="#c8c8c8" stroke-width="1.4" />
<line x1="929.8" y1="492.3" x2="934" y2="492.3" stroke="#c8c8c8" stroke-width="1.4" />
<text x="820.6" y="495.4" font-size="8.3" fill="#fff" textLength="12.8" lengthAdjust="spacingAndGlyphs" >700</text>
<line x1="814" y1="513.6" x2="818.6" y2="513.6" stroke="#c8c8c8" stroke-width="1.4" />
<line x1="929.8" y1="513.6" x2="934" y2="513.6" stroke="#c8c8c8" stroke-width="1.4" />
<text x="820.6" y="516.7" font-size="8.3" fill="#fff" textLength="12.8" lengthAdjust="spacingAndGlyphs" >800</text>
<line x1="814" y1="534.9" x2="818.6" y2="534.9" stroke="#c8c8c8" stroke-width="1.4" />
<line x1="929.8" y1="534.9" x2="934" y2="534.9" stroke="#c8c8c8" stroke-width="1.4" />
<text x="820.6" y="538" font-size="8.3" fill="#fff" textLength="12.8" lengthAdjust="spacingAndGlyphs" >900</text>
<line x1="814" y1="556.2" x2="818.6" y2="556.2" stroke="#c8c8c8" stroke-width="1.4" />
<line x1="929.8" y1="556.2" x2="934" y2="556.2" stroke="#c8c8c8" stroke-width="1.4" />
<text x="820.6" y="559.3" font-size="8.3" fill="#fff" textLength="17" lengthAdjust="spacingAndGlyphs" >1000</text>
<line x1="826" y1="430" x2="826" y2="434.4" stroke="#c8c8c8" stroke-width="1.4" />
<line x1="826" y1="557" x2="826" y2="561" stroke="#c8c8c8" stroke-width="1.4" />
<text x="826.8" y="555.2" font-size="8.3" fill="#fff" textLength="12.8" lengthAdjust="spacingAndGlyphs" >320</text>
<line x1="853.8" y1="430" x2="853.8" y2="434.4" stroke="#c8c8c8" stroke-width="1.4" />
<line x1="853.8" y1="557" x2="853.8" y2="561" stroke="#c8c8c8" stroke-width="1.4" />
<text x="854.6" y="555.2" font-size="8.3" fill="#fff" textLength="12.8" lengthAdjust="spacingAndGlyphs" >330</text>
<line x1="881.6" y1="430" x2="881.6" y2="434.4" stroke="#c8c8c8" stroke-width="1.4" />
<line x1="881.6" y1="557" x2="881.6" y2="561" stroke="#c8c8c8" stroke-width="1.4" />
<text x="882.4" y="555.2" font-size="8.3" fill="#fff" textLength="12.8" lengthAdjust="spacingAndGlyphs" >340</text>
<line x1="909.4" y1="430" x2="909.4" y2="434.4" stroke="#c8c8c8" stroke-width="1.4" />
<line x1="909.4" y1="557" x2="909.4" y2="561" stroke="#c8c8c8" stroke-width="1.4" />
<text x="910.2" y="555.2" font-size="8.3" fill="#fff" textLength="12.8" lengthAdjust="spacingAndGlyphs" >350</text>
<text x="859.6" y="461.9" font-size="8.3" fill="#fff" textLength="26.4" lengthAdjust="spacingAndGlyphs" >Theta-E</text>
<text x="872.7" y="471.1" font-size="8.3" fill="#fff" text-anchor="middle" >v.</text>
<text x="864.5" y="481.7" font-size="8.3" fill="#fff" textLength="16.5" lengthAdjust="spacingAndGlyphs" >Pres</text>
<polyline points="849.2,429.3 840.4,436.5 844.8,446 855.1,448.6 850.7,464.1 855.8,469.6 871.2,474 880,482.1 860.8,489.4 866.1,493.8 866.8,498.2 886,504.4 888.2,507 889.9,523.6 897,528 901,540.1 897.6,545 918.6,548.9" fill="none" stroke="#ff0000" stroke-width="2.2" stroke-linejoin="round" />
<line x1="936" y1="542.7" x2="941" y2="542.7" stroke="#c8c8c8" stroke-width="1.4" />
<line x1="1051.6" y1="542.7" x2="1056.2" y2="542.7" stroke="#c8c8c8" stroke-width="1.4" />
<text x="951" y="545.8" font-size="8.3" fill="#fff" textLength="4.4" lengthAdjust="spacingAndGlyphs" >2</text>
<line x1="936" y1="526.1" x2="941" y2="526.1" stroke="#c8c8c8" stroke-width="1.4" />
<line x1="1051.6" y1="526.1" x2="1056.2" y2="526.1" stroke="#c8c8c8" stroke-width="1.4" />
<text x="951" y="529.2" font-size="8.3" fill="#fff" textLength="4.4" lengthAdjust="spacingAndGlyphs" >4</text>
<line x1="936" y1="509.5" x2="941" y2="509.5" stroke="#c8c8c8" stroke-width="1.4" />
<line x1="1051.6" y1="509.5" x2="1056.2" y2="509.5" stroke="#c8c8c8" stroke-width="1.4" />
<text x="951" y="512.6" font-size="8.3" fill="#fff" textLength="4.4" lengthAdjust="spacingAndGlyphs" >6</text>
<line x1="936" y1="492.9" x2="941" y2="492.9" stroke="#c8c8c8" stroke-width="1.4" />
<line x1="1051.6" y1="492.9" x2="1056.2" y2="492.9" stroke="#c8c8c8" stroke-width="1.4" />
<text x="951" y="496" font-size="8.3" fill="#fff" textLength="4.4" lengthAdjust="spacingAndGlyphs" >8</text>
<line x1="936" y1="476.3" x2="941" y2="476.3" stroke="#c8c8c8" stroke-width="1.4" />
<line x1="1051.6" y1="476.3" x2="1056.2" y2="476.3" stroke="#c8c8c8" stroke-width="1.4" />
<text x="948" y="479.4" font-size="8.3" fill="#fff" textLength="7.4" lengthAdjust="spacingAndGlyphs" >10</text>
<line x1="936" y1="459.7" x2="941" y2="459.7" stroke="#c8c8c8" stroke-width="1.4" />
<line x1="1051.6" y1="459.7" x2="1056.2" y2="459.7" stroke="#c8c8c8" stroke-width="1.4" />
<text x="948" y="462.8" font-size="8.3" fill="#fff" textLength="7.4" lengthAdjust="spacingAndGlyphs" >12</text>
<line x1="936" y1="443.1" x2="941" y2="443.1" stroke="#c8c8c8" stroke-width="1.4" />
<line x1="1051.6" y1="443.1" x2="1056.2" y2="443.1" stroke="#c8c8c8" stroke-width="1.4" />
<text x="948" y="446.2" font-size="8.3" fill="#fff" textLength="7.4" lengthAdjust="spacingAndGlyphs" >14</text>
<line x1="950.9" y1="430" x2="950.9" y2="434.4" stroke="#c8c8c8" stroke-width="1.4" />
<line x1="950.9" y1="557" x2="950.9" y2="561" stroke="#c8c8c8" stroke-width="1.4" />
<line x1="967.6" y1="430" x2="967.6" y2="434.4" stroke="#c8c8c8" stroke-width="1.4" />
<line x1="967.6" y1="557" x2="967.6" y2="561" stroke="#c8c8c8" stroke-width="1.4" />
<line x1="984.3" y1="430" x2="984.3" y2="434.4" stroke="#c8c8c8" stroke-width="1.4" />
<line x1="984.3" y1="557" x2="984.3" y2="561" stroke="#c8c8c8" stroke-width="1.4" />
<line x1="1001" y1="430" x2="1001" y2="434.4" stroke="#c8c8c8" stroke-width="1.4" />
<line x1="1001" y1="557" x2="1001" y2="561" stroke="#c8c8c8" stroke-width="1.4" />
<line x1="1017.7" y1="430" x2="1017.7" y2="434.4" stroke="#c8c8c8" stroke-width="1.4" />
<line x1="1017.7" y1="557" x2="1017.7" y2="561" stroke="#c8c8c8" stroke-width="1.4" />
<line x1="1034.4" y1="430" x2="1034.4" y2="434.4" stroke="#c8c8c8" stroke-width="1.4" />
<line x1="1034.4" y1="557" x2="1034.4" y2="561" stroke="#c8c8c8" stroke-width="1.4" />
<line x1="1051.1" y1="430" x2="1051.1" y2="434.4" stroke="#c8c8c8" stroke-width="1.4" />
<line x1="1051.1" y1="557" x2="1051.1" y2="561" stroke="#c8c8c8" stroke-width="1.4" />
<line x1="959.2" y1="429.5" x2="959.2" y2="560.5" stroke="#e0e0e0" stroke-width="1.4" stroke-dasharray="3.2 2" />
<line x1="1000.9" y1="429.5" x2="1000.9" y2="492.7" stroke="#80148c" stroke-width="1.6" stroke-dasharray="3.2 2" />
<line x1="1051.1" y1="429.5" x2="1051.1" y2="492.7" stroke="#80148c" stroke-width="1.6" stroke-dasharray="3.2 2" />
<text x="957.5" y="443.8" font-size="8.3" fill="#fff" textLength="29" lengthAdjust="spacingAndGlyphs" >SR Wind</text>
<text x="972.2" y="453.1" font-size="8.3" fill="#fff" text-anchor="middle" >v.</text>
<text x="961.5" y="463.4" font-size="8.3" fill="#fff" textLength="22.5" lengthAdjust="spacingAndGlyphs" >Height</text>
<text x="1008.3" y="453.5" font-size="8.3" fill="#80148c" textLength="25.3" lengthAdjust="spacingAndGlyphs" >Classic</text>
<text x="1005.5" y="463.4" font-size="8.3" fill="#80148c" textLength="31.3" lengthAdjust="spacingAndGlyphs" >Supercell</text>
<line x1="983.9" y1="467.4" x2="983.9" y2="485.4" stroke="#b000ff" stroke-width="2" />
<line x1="966.1" y1="509.1" x2="966.1" y2="526.9" stroke="#6496f0" stroke-width="1.8" />
<line x1="970.9" y1="542.2" x2="970.9" y2="561" stroke="#a00000" stroke-width="2" />
<clipPath id="csr"><rect x="936" y="430" width="120" height="131"/></clipPath>
<polyline points="947.6,429.8 975.2,432.7 978.5,432.9 974.6,436 976.3,439.3 985.1,441.5 1000.5,442.6 1029.2,444.8 1055.6,447 1064,448 1064,455 1056.1,455.8 1051.2,459.2 1040.2,463 1007.1,470.2 985.1,475.1 975.2,479 977.4,482.3 974.1,485.4 969.1,495 968.6,500 964.7,506 963.6,509.9 964.2,518.1 967.5,520.9 980.7,526.9 978.5,530.3 936.6,539.6 941,540.2 961.4,541.8 966.9,545.1 960.8,547.9 961.4,550.1 984,556.1 985.1,560" fill="none" stroke="#ff0000" stroke-width="1.8" stroke-linejoin="round" clip-path="url(#csr)"/>
<line x1="1057" y1="453.5" x2="1178" y2="453.5" stroke="#fff" stroke-width="2" />
<text x="1073.2" y="446.9" font-size="14" fill="#fff" textLength="88.5" lengthAdjust="spacingAndGlyphs" >Psbl Haz. Type</text>
<text x="1084.6" y="508.1" font-size="14" fill="#ff0000" textLength="66.3" lengthAdjust="spacingAndGlyphs" >MRGL TOR</text>
<line x1="813.2" y1="428.5" x2="813.2" y2="562" stroke="#fff" stroke-width="2" />
<line x1="935" y1="428.5" x2="935" y2="562" stroke="#fff" stroke-width="2" />
<line x1="1057" y1="428.5" x2="1057" y2="562" stroke="#fff" stroke-width="2" />
<line x1="691" y1="429" x2="1179" y2="429" stroke="#fff" stroke-width="2" />
<text x="30.55" y="596" font-size="11" fill="#fff" textLength="18.5" lengthAdjust="spacingAndGlyphs" >PCL</text>
<text x="62.15" y="596" font-size="11" fill="#fff" textLength="26.5" lengthAdjust="spacingAndGlyphs" >CAPE</text>
<text x="98.8" y="596" font-size="11" fill="#fff" textLength="25" lengthAdjust="spacingAndGlyphs" >CINH</text>
<text x="137.65" y="596" font-size="11" fill="#fff" textLength="19.5" lengthAdjust="spacingAndGlyphs" >LCL</text>
<text x="179.75" y="596" font-size="11" fill="#fff" textLength="8.5" lengthAdjust="spacingAndGlyphs" >LI</text>
<text x="209.4" y="596" font-size="11" fill="#fff" textLength="20" lengthAdjust="spacingAndGlyphs" >LFC</text>
<text x="248.95" y="596" font-size="11" fill="#fff" textLength="12.5" lengthAdjust="spacingAndGlyphs" >EL</text>
<line x1="4" y1="597.5" x2="297" y2="597.5" stroke="#fff" stroke-width="1" />
<text x="30.05" y="610" font-size="11" fill="#fff" textLength="19.5" lengthAdjust="spacingAndGlyphs" >SFC</text>
<text x="63.5" y="610" font-size="11" fill="#fff" textLength="23.8" lengthAdjust="spacingAndGlyphs" >2780</text>
<text x="103.55" y="610" font-size="11" fill="#fff" textLength="15.5" lengthAdjust="spacingAndGlyphs" >-22</text>
<text x="138.47" y="610" font-size="11" fill="#fff" textLength="17.85" lengthAdjust="spacingAndGlyphs" >758</text>
<text x="179.22" y="610" font-size="11" fill="#fff" textLength="9.55" lengthAdjust="spacingAndGlyphs" >-8</text>
<text x="207.5" y="610" font-size="11" fill="#fff" textLength="23.8" lengthAdjust="spacingAndGlyphs" >2911</text>
<text x="240.32" y="610" font-size="11" fill="#fff" textLength="29.75" lengthAdjust="spacingAndGlyphs" >13298</text>
<text x="32.8" y="620" font-size="11" fill="#fff" textLength="14" lengthAdjust="spacingAndGlyphs" >ML</text>
<text x="63.5" y="620" font-size="11" fill="#fff" textLength="23.8" lengthAdjust="spacingAndGlyphs" >1653</text>
<text x="100.58" y="620" font-size="11" fill="#fff" textLength="21.45" lengthAdjust="spacingAndGlyphs" >-129</text>
<text x="138.47" y="620" font-size="11" fill="#fff" textLength="17.85" lengthAdjust="spacingAndGlyphs" >935</text>
<text x="179.22" y="620" font-size="11" fill="#fff" textLength="9.55" lengthAdjust="spacingAndGlyphs" >-6</text>
<text x="207.5" y="620" font-size="11" fill="#fff" textLength="23.8" lengthAdjust="spacingAndGlyphs" >3801</text>
<text x="240.32" y="620" font-size="11" fill="#fff" textLength="29.75" lengthAdjust="spacingAndGlyphs" >11835</text>
<text x="27.05" y="630" font-size="11" fill="#fff" textLength="25.5" lengthAdjust="spacingAndGlyphs" >FCST</text>
<text x="63.5" y="630" font-size="11" fill="#fff" textLength="23.8" lengthAdjust="spacingAndGlyphs" >2157</text>
<text x="103.55" y="630" font-size="11" fill="#fff" textLength="15.5" lengthAdjust="spacingAndGlyphs" >-61</text>
<text x="135.5" y="630" font-size="11" fill="#fff" textLength="23.8" lengthAdjust="spacingAndGlyphs" >1246</text>
<text x="179.22" y="630" font-size="11" fill="#fff" textLength="9.55" lengthAdjust="spacingAndGlyphs" >-7</text>
<text x="207.5" y="630" font-size="11" fill="#fff" textLength="23.8" lengthAdjust="spacingAndGlyphs" >3591</text>
<text x="240.32" y="630" font-size="11" fill="#fff" textLength="29.75" lengthAdjust="spacingAndGlyphs" >12351</text>
<text x="32.3" y="640" font-size="11" fill="#00d0d0" textLength="15" lengthAdjust="spacingAndGlyphs" >MU</text>
<text x="63.5" y="640" font-size="11" fill="#ffff00" textLength="23.8" lengthAdjust="spacingAndGlyphs" >2780</text>
<text x="103.55" y="640" font-size="11" fill="#00ff00" textLength="15.5" lengthAdjust="spacingAndGlyphs" >-22</text>
<text x="138.47" y="640" font-size="11" fill="#fff" textLength="17.85" lengthAdjust="spacingAndGlyphs" >758</text>
<text x="179.22" y="640" font-size="11" fill="#fff" textLength="9.55" lengthAdjust="spacingAndGlyphs" >-8</text>
<text x="207.5" y="640" font-size="11" fill="#fff" textLength="23.8" lengthAdjust="spacingAndGlyphs" >2911</text>
<text x="240.32" y="640" font-size="11" fill="#fff" textLength="29.75" lengthAdjust="spacingAndGlyphs" >13298</text>
<rect x="6.2" y="631.6" width="285.2" height="10.6" fill="none" stroke="#8a5a20" stroke-width="1" />
<line x1="4" y1="644.5" x2="297" y2="644.5" stroke="#fff" stroke-width="1" />
<text x="9.2" y="658" font-size="11" fill="#6be06b" textLength="56.3" lengthAdjust="spacingAndGlyphs" >PW = 1.53in</text>
<text x="9.2" y="668" font-size="11" fill="#fff" textLength="89" lengthAdjust="spacingAndGlyphs" >MeanW = 14.2g/kg</text>
<text x="9.2" y="678" font-size="11" fill="#fff" textLength="69.3" lengthAdjust="spacingAndGlyphs" >LowRH = 80%</text>
<text x="9.2" y="688" font-size="11" fill="#fff" textLength="63.8" lengthAdjust="spacingAndGlyphs" >MidRH = 58%</text>
<text x="9.2" y="698" font-size="11" fill="#fff" textLength="68.8" lengthAdjust="spacingAndGlyphs" >DCAPE = 1143</text>
<text x="9.2" y="708" font-size="11" fill="#fff" textLength="64.8" lengthAdjust="spacingAndGlyphs" >DownT = 62F</text>
<text x="105.5" y="658" font-size="11" fill="#fff" textLength="30.5" lengthAdjust="spacingAndGlyphs" >K = 28</text>
<text x="105.5" y="668" font-size="11" fill="#fff" textLength="34.5" lengthAdjust="spacingAndGlyphs" >TT = 51</text>
<text x="105.5" y="678" font-size="11" fill="#fff" textLength="60.5" lengthAdjust="spacingAndGlyphs" >ConvT = 96F</text>
<text x="105.5" y="688" font-size="11" fill="#fff" textLength="54.5" lengthAdjust="spacingAndGlyphs" >maxT = 83F</text>
<text x="105.5" y="698" font-size="11" fill="#fff" textLength="45.5" lengthAdjust="spacingAndGlyphs" >ESP = 0.0</text>
<text x="105.5" y="708" font-size="11" fill="#fff" textLength="54.5" lengthAdjust="spacingAndGlyphs" >MMP = 0.96</text>
<text x="178.5" y="658" font-size="11" fill="#fff" textLength="58.5" lengthAdjust="spacingAndGlyphs" >WNDG = 0.0</text>
<text x="178.5" y="668" font-size="11" fill="#fff" textLength="37.5" lengthAdjust="spacingAndGlyphs" >TEI = 24</text>
<text x="178.5" y="678" font-size="11" fill="#fff" textLength="50.5" lengthAdjust="spacingAndGlyphs" >3CAPE = 0</text>
<text x="178.5" y="688" font-size="11" fill="#fff" textLength="58.5" lengthAdjust="spacingAndGlyphs" >MBURST = 1</text>
<text x="178.5" y="708" font-size="11" fill="#fff" textLength="105.5" lengthAdjust="spacingAndGlyphs" >SigSvr = 35489 m3/s3</text>
<line x1="4" y1="709.5" x2="297" y2="709.5" stroke="#fff" stroke-width="1" />
<line x1="202.5" y1="709.5" x2="202.5" y2="776" stroke="#fff" stroke-width="1" />
<text x="9.5" y="723" font-size="11" fill="#fff" textLength="133" lengthAdjust="spacingAndGlyphs" >Sfc-3km AGL LR = 6.1 C/km</text>
<text x="9.5" y="733" font-size="11" fill="#fff" textLength="122.5" lengthAdjust="spacingAndGlyphs" >3-6km AGL LR = 8.3 C/km</text>
<text x="9.5" y="743" font-size="11" fill="#fff" textLength="123" lengthAdjust="spacingAndGlyphs" >850-500mb LR = 6.5 C/km</text>
<text x="9.5" y="753" font-size="11" fill="#fff" textLength="123" lengthAdjust="spacingAndGlyphs" >700-500mb LR = 8.4 C/km</text>
<text x="207.5" y="723" font-size="11" fill="#fff" textLength="71.5" lengthAdjust="spacingAndGlyphs" >Supercell = 9.8</text>
<text x="207.5" y="733" font-size="11" fill="#8a5a14" textLength="70" lengthAdjust="spacingAndGlyphs" >STP (cin) = 0.7</text>
<text x="207.5" y="743" font-size="11" fill="#fff" textLength="68.5" lengthAdjust="spacingAndGlyphs" >STP (fix) = 1.9</text>
<text x="207.5" y="753" font-size="11" fill="#ffff00" textLength="48.5" lengthAdjust="spacingAndGlyphs" >SHIP = 1.6</text>
<text x="354.4" y="597.6" font-size="11" fill="#fff" textLength="60.4" lengthAdjust="spacingAndGlyphs" >SRH (m2/s2)</text>
<text x="433.2" y="597.6" font-size="11" fill="#fff" textLength="47.3" lengthAdjust="spacingAndGlyphs" >Shear (kt)</text>
<text x="496.3" y="597.6" font-size="11" fill="#fff" textLength="37.5" lengthAdjust="spacingAndGlyphs" >MnWind</text>
<text x="556.2" y="597.6" font-size="11" fill="#fff" textLength="23.6" lengthAdjust="spacingAndGlyphs" >SRW</text>
<line x1="298" y1="600.5" x2="590" y2="600.5" stroke="#fff" stroke-width="1" />
<text x="303.1" y="611" font-size="11" fill="#fff" textLength="42.9" lengthAdjust="spacingAndGlyphs" >SFC-1km</text>
<text x="396.4" y="613" font-size="11" fill="#fff" textLength="17.1" lengthAdjust="spacingAndGlyphs" >141</text>
<text x="459.8" y="613" font-size="11" fill="#fff" textLength="11.5" lengthAdjust="spacingAndGlyphs" >19</text>
<text x="497.6" y="613" font-size="11" fill="#fff" textLength="32" lengthAdjust="spacingAndGlyphs" >190/23</text>
<text x="556.2" y="613" font-size="11" fill="#fff" textLength="32" lengthAdjust="spacingAndGlyphs" >100/26</text>
<text x="303.1" y="621" font-size="11" fill="#fff" textLength="42.9" lengthAdjust="spacingAndGlyphs" >SFC-3km</text>
<text x="396.4" y="623" font-size="11" fill="#fff" textLength="17.1" lengthAdjust="spacingAndGlyphs" >177</text>
<text x="459.8" y="623" font-size="11" fill="#fff" textLength="11.5" lengthAdjust="spacingAndGlyphs" >33</text>
<text x="497.6" y="623" font-size="11" fill="#fff" textLength="32" lengthAdjust="spacingAndGlyphs" >208/27</text>
<text x="556.2" y="623" font-size="11" fill="#fff" textLength="32" lengthAdjust="spacingAndGlyphs" >106/17</text>
<text x="303.1" y="631" font-size="11" fill="#fff" textLength="77.5" lengthAdjust="spacingAndGlyphs" >Eff Inflow Layer</text>
<text x="396.4" y="633" font-size="11" fill="#fff" textLength="17.1" lengthAdjust="spacingAndGlyphs" >176</text>
<text x="459.8" y="633" font-size="11" fill="#fff" textLength="11.5" lengthAdjust="spacingAndGlyphs" >26</text>
<text x="497.6" y="633" font-size="11" fill="#fff" textLength="32" lengthAdjust="spacingAndGlyphs" >200/24</text>
<text x="556.2" y="633" font-size="11" fill="#fff" textLength="32" lengthAdjust="spacingAndGlyphs" >102/21</text>
<text x="303.1" y="646" font-size="11" fill="#fff" textLength="42.9" lengthAdjust="spacingAndGlyphs" >SFC-6km</text>
<text x="459.8" y="648" font-size="11" fill="#fff" textLength="11.5" lengthAdjust="spacingAndGlyphs" >42</text>
<text x="497.6" y="648" font-size="11" fill="#fff" textLength="32" lengthAdjust="spacingAndGlyphs" >212/33</text>
<text x="556.2" y="648" font-size="11" fill="#fff" textLength="32" lengthAdjust="spacingAndGlyphs" >130/15</text>
<text x="303.1" y="656" font-size="11" fill="#fff" textLength="42.9" lengthAdjust="spacingAndGlyphs" >SFC-8km</text>
<text x="459.8" y="658" font-size="11" fill="#fff" textLength="11.5" lengthAdjust="spacingAndGlyphs" >45</text>
<text x="497.6" y="658" font-size="11" fill="#fff" textLength="32" lengthAdjust="spacingAndGlyphs" >213/35</text>
<text x="556.2" y="658" font-size="11" fill="#fff" textLength="32" lengthAdjust="spacingAndGlyphs" >137/15</text>
<text x="303.1" y="666" font-size="11" fill="#fff" textLength="103.9" lengthAdjust="spacingAndGlyphs" >LCL-EL (Cloud Layer)</text>
<text x="459.8" y="668" font-size="11" fill="#fff" textLength="11.5" lengthAdjust="spacingAndGlyphs" >98</text>
<text x="497.6" y="668" font-size="11" fill="#fff" textLength="32" lengthAdjust="spacingAndGlyphs" >219/43</text>
<text x="556.2" y="668" font-size="11" fill="#fff" textLength="32" lengthAdjust="spacingAndGlyphs" >171/15</text>
<text x="303.1" y="676" font-size="11" fill="#fff" textLength="87.4" lengthAdjust="spacingAndGlyphs" >Eff Shear (EBWD)</text>
<text x="459.8" y="678" font-size="11" fill="#fff" textLength="11.5" lengthAdjust="spacingAndGlyphs" >42</text>
<text x="497.6" y="678" font-size="11" fill="#fff" textLength="32" lengthAdjust="spacingAndGlyphs" >212/34</text>
<text x="556.2" y="678" font-size="11" fill="#fff" textLength="32" lengthAdjust="spacingAndGlyphs" >132/15</text>
<text x="303.1" y="691" font-size="11" fill="#fff" textLength="61.9" lengthAdjust="spacingAndGlyphs" >BRN Shear =</text>
<text x="427.9" y="693" font-size="11" fill="#fff" textLength="43.7" lengthAdjust="spacingAndGlyphs" >48 m2/s2</text>
<text x="303.1" y="701" font-size="11" fill="#fff" textLength="82.4" lengthAdjust="spacingAndGlyphs" >4-6km SR Wind =</text>
<text x="427.9" y="703" font-size="11" fill="#fff" textLength="43.7" lengthAdjust="spacingAndGlyphs" >166/21 kt</text>
<text x="303.1" y="716" font-size="11" fill="#fff" textLength="121.4" lengthAdjust="spacingAndGlyphs" >...Storm Motion Vectors...</text>
<text x="303.1" y="726" font-size="11" fill="#fff" textLength="75.9" lengthAdjust="spacingAndGlyphs" >Bunkers Right =</text>
<text x="427.9" y="726" font-size="11" fill="#1aa0d4" textLength="43.9" lengthAdjust="spacingAndGlyphs" >238/35 kt</text>
<text x="303.1" y="736" font-size="11" fill="#fff" textLength="70.9" lengthAdjust="spacingAndGlyphs" >Bunkers Left =</text>
<text x="427.9" y="736" font-size="11" fill="#f0505a" textLength="43.9" lengthAdjust="spacingAndGlyphs" >194/42 kt</text>
<text x="303.1" y="746" font-size="11" fill="#fff" textLength="99.9" lengthAdjust="spacingAndGlyphs" >Corfidi Downshear =</text>
<text x="427.9" y="746" font-size="11" fill="#fff" textLength="43.9" lengthAdjust="spacingAndGlyphs" >226/65 kt</text>
<text x="303.1" y="756" font-size="11" fill="#fff" textLength="83.9" lengthAdjust="spacingAndGlyphs" >Corfidi Upshear =</text>
<text x="427.9" y="758" font-size="11" fill="#fff" textLength="43.9" lengthAdjust="spacingAndGlyphs" >241/23 kt</text>
<path d="M0,0L25,0M25,0L25,10M21,0L21,10M17,0L17,10" fill="none" stroke="#e01010" stroke-width="1" transform="translate(530,709.6) rotate(116.5) scale(1)"/>
<path d="M0,0L25,0M25,0L25,10L21,0" fill="none" stroke="#0a80d0" stroke-width="1" transform="translate(530,709.6) rotate(133.7) scale(1)"/>
<text x="493.1" y="740.5" font-size="11" fill="#0a74d4" textLength="73.3" lengthAdjust="spacingAndGlyphs" >1km &amp; 6km AGL</text>
<text x="502.3" y="754.5" font-size="11" fill="#0a74d4" textLength="54.9" lengthAdjust="spacingAndGlyphs" >Wind Barbs</text>
<text x="604.7" y="601.8" font-size="16" fill="#fff" textLength="265.9" lengthAdjust="spacingAndGlyphs" >SARS - Sounding Analogue System</text>
<line x1="591" y1="606.5" x2="884" y2="606.5" stroke="#fff" stroke-width="1" />
<line x1="738.5" y1="606.5" x2="738.5" y2="776" stroke="#fff" stroke-width="1" />
<text x="626.3" y="620.2" font-size="13" fill="#fff" textLength="76.1" lengthAdjust="spacingAndGlyphs" >SUPERCELL</text>
<text x="774.2" y="620.2" font-size="13" fill="#fff" textLength="74.3" lengthAdjust="spacingAndGlyphs" >SGFNT HAIL</text>
<text x="612.1" y="670.9" font-size="12" fill="#fff" textLength="104.3" lengthAdjust="spacingAndGlyphs" >No Quality Matches</text>
<text x="759.2" y="670.9" font-size="12" fill="#fff" textLength="104.3" lengthAdjust="spacingAndGlyphs" >No Quality Matches</text>
<text x="611.3" y="756.8" font-size="13" fill="#f000f0" textLength="106.9" lengthAdjust="spacingAndGlyphs" >(92 loose matches)</text>
<text x="619.7" y="769.4" font-size="12.5" fill="#f000f0" textLength="90.1" lengthAdjust="spacingAndGlyphs" >SARS: 60% TOR</text>
<text x="754.5" y="756.8" font-size="13" fill="#f000f0" textLength="113.7" lengthAdjust="spacingAndGlyphs" >(101 loose matches)</text>
<text x="768.4" y="769.4" font-size="12.5" fill="#f000f0" textLength="85.4" lengthAdjust="spacingAndGlyphs" >SARS: 61% SIG</text>
<text x="934.4" y="598.1" font-size="15" fill="#fff" textLength="197" lengthAdjust="spacingAndGlyphs" >Effective Layer STP (with CIN)</text>
<line x1="886" y1="762" x2="1177" y2="762" stroke="#0a56a8" stroke-width="2" stroke-dasharray="4 2" />
<line x1="886" y1="747.38" x2="1177" y2="747.38" stroke="#0a56a8" stroke-width="2" stroke-dasharray="4 2" />
<line x1="886" y1="732.76" x2="1177" y2="732.76" stroke="#0a56a8" stroke-width="2" stroke-dasharray="4 2" />
<line x1="886" y1="718.14" x2="1177" y2="718.14" stroke="#0a56a8" stroke-width="2" stroke-dasharray="4 2" />
<line x1="886" y1="703.52" x2="1177" y2="703.52" stroke="#0a56a8" stroke-width="2" stroke-dasharray="4 2" />
<line x1="886" y1="688.9" x2="1177" y2="688.9" stroke="#0a56a8" stroke-width="2" stroke-dasharray="4 2" />
<line x1="886" y1="674.28" x2="1177" y2="674.28" stroke="#0a56a8" stroke-width="2" stroke-dasharray="4 2" />
<line x1="886" y1="659.66" x2="1177" y2="659.66" stroke="#0a56a8" stroke-width="2" stroke-dasharray="4 2" />
<line x1="886" y1="645.04" x2="1177" y2="645.04" stroke="#0a56a8" stroke-width="2" stroke-dasharray="4 2" />
<line x1="886" y1="630.42" x2="1177" y2="630.42" stroke="#0a56a8" stroke-width="2" stroke-dasharray="4 2" />
<line x1="886" y1="615.8" x2="1177" y2="615.8" stroke="#0a56a8" stroke-width="2" stroke-dasharray="4 2" />
<line x1="886" y1="601.18" x2="1177" y2="601.18" stroke="#0a56a8" stroke-width="2" stroke-dasharray="4 2" />
<text x="888.4" y="766.4" font-size="12" fill="#fff" >0</text>
<text x="888.4" y="751.78" font-size="12" fill="#fff" >1</text>
<text x="888.4" y="737.16" font-size="12" fill="#fff" >2</text>
<text x="888.4" y="722.54" font-size="12" fill="#fff" >3</text>
<text x="888.4" y="707.92" font-size="12" fill="#fff" >4</text>
<text x="888.4" y="693.3" font-size="12" fill="#fff" >5</text>
<text x="888.4" y="678.68" font-size="12" fill="#fff" >6</text>
<text x="888.4" y="664.06" font-size="12" fill="#fff" >7</text>
<text x="888.4" y="649.44" font-size="12" fill="#fff" >8</text>
<text x="888.4" y="634.82" font-size="12" fill="#fff" >9</text>
<text x="887.6" y="620.2" font-size="12" fill="#fff" >10</text>
<text x="887.6" y="605.58" font-size="12" fill="#fff" >11</text>
<line x1="926" y1="601.3" x2="926" y2="640.7" stroke="#00ff00" stroke-width="2" />
<line x1="926" y1="724.2" x2="926" y2="744.5" stroke="#00ff00" stroke-width="2" />
<rect x="915.1" y="640.7" width="21.8" height="83.5" fill="none" stroke="#00ff00" stroke-width="2" />
<line x1="915.1" y1="683.5" x2="936.9" y2="683.5" stroke="#00ff00" stroke-width="2" />
<line x1="968" y1="638" x2="968" y2="695.9" stroke="#00ff00" stroke-width="2" />
<line x1="968" y1="747.1" x2="968" y2="759.7" stroke="#00ff00" stroke-width="2" />
<rect x="957.1" y="695.9" width="21.8" height="51.2" fill="none" stroke="#00ff00" stroke-width="2" />
<line x1="957.1" y1="726.6" x2="978.9" y2="726.6" stroke="#00ff00" stroke-width="2" />
<line x1="1010" y1="679.6" x2="1010" y2="707.7" stroke="#00ff00" stroke-width="2" />
<line x1="1010" y1="753.7" x2="1010" y2="762" stroke="#00ff00" stroke-width="2" />
<rect x="999.1" y="707.7" width="21.8" height="46" fill="none" stroke="#00ff00" stroke-width="2" />
<line x1="999.1" y1="736.6" x2="1020.9" y2="736.6" stroke="#00ff00" stroke-width="2" />
<line x1="1051.8" y1="695.3" x2="1051.8" y2="724" stroke="#00ff00" stroke-width="2" />
<line x1="1051.8" y1="757.1" x2="1051.8" y2="762" stroke="#00ff00" stroke-width="2" />
<rect x="1040.9" y="724" width="21.8" height="33.1" fill="none" stroke="#00ff00" stroke-width="2" />
<line x1="1040.9" y1="743.2" x2="1062.7" y2="743.2" stroke="#00ff00" stroke-width="2" />
<line x1="1093.9" y1="707.2" x2="1093.9" y2="731.9" stroke="#00ff00" stroke-width="2" />
<line x1="1093.9" y1="760.2" x2="1093.9" y2="762" stroke="#00ff00" stroke-width="2" />
<rect x="1083" y="731.9" width="21.8" height="28.3" fill="none" stroke="#00ff00" stroke-width="2" />
<line x1="1083" y1="749.7" x2="1104.8" y2="749.7" stroke="#00ff00" stroke-width="2" />
<line x1="1135.9" y1="736.1" x2="1135.9" y2="750.9" stroke="#00ff00" stroke-width="2" />
<rect x="1125" y="750.9" width="21.8" height="11.1" fill="none" stroke="#00ff00" stroke-width="2" />
<line x1="1125" y1="759" x2="1146.8" y2="759" stroke="#00ff00" stroke-width="2" />
<line x1="886" y1="752" x2="1177" y2="752" stroke="#96640a" stroke-width="2" />
<text x="914.7" y="774.6" font-size="10.5" fill="#fff" textLength="23.1" lengthAdjust="spacingAndGlyphs" >EF4+</text>
<text x="959.3" y="774.6" font-size="10.5" fill="#fff" textLength="17.1" lengthAdjust="spacingAndGlyphs" >EF3</text>
<text x="1001.3" y="774.6" font-size="10.5" fill="#fff" textLength="17.1" lengthAdjust="spacingAndGlyphs" >EF2</text>
<text x="1043.4" y="774.6" font-size="10.5" fill="#fff" textLength="16.6" lengthAdjust="spacingAndGlyphs" >EF1</text>
<text x="1085.4" y="774.6" font-size="10.5" fill="#fff" textLength="17.1" lengthAdjust="spacingAndGlyphs" >EF0</text>
<text x="1114.3" y="774.6" font-size="10.5" fill="#fff" textLength="42.7" lengthAdjust="spacingAndGlyphs" >NONTOR</text>
<rect x="1031.3" y="602.3" width="142" height="71" fill="#000" stroke="#fff" stroke-width="2" />
<line x1="1031" y1="623.1" x2="1174" y2="623.1" stroke="#fff" stroke-width="2" />
<text x="1034.2" y="611.9" font-size="8" fill="#fff" textLength="99.3" lengthAdjust="spacingAndGlyphs" >Prob EF2+ torn with supercell</text>
<text x="1034.2" y="620.6" font-size="8" fill="#fff" textLength="92" lengthAdjust="spacingAndGlyphs" >Sample CLIMO = .15 sigtor</text>
<text x="1034.2" y="630" font-size="8" fill="#fff" textLength="54.8" lengthAdjust="spacingAndGlyphs" >based on CAPE:</text>
<text x="1138" y="630" font-size="8" fill="#fff" textLength="14.4" lengthAdjust="spacingAndGlyphs" >0.13</text>
<text x="1034.2" y="637.93" font-size="8" fill="#ffff00" textLength="47.8" lengthAdjust="spacingAndGlyphs" >based on LCL:</text>
<text x="1138" y="637.93" font-size="8" fill="#ffff00" textLength="14.4" lengthAdjust="spacingAndGlyphs" >0.19</text>
<text x="1034.2" y="645.86" font-size="8" fill="#7a5522" textLength="55.8" lengthAdjust="spacingAndGlyphs" >based on ESRH:</text>
<text x="1138" y="645.86" font-size="8" fill="#7a5522" textLength="14.4" lengthAdjust="spacingAndGlyphs" >0.08</text>
<text x="1034.2" y="653.79" font-size="8" fill="#a06a20" textLength="57.3" lengthAdjust="spacingAndGlyphs" >based on EBWD:</text>
<text x="1138" y="653.79" font-size="8" fill="#a06a20" textLength="14.4" lengthAdjust="spacingAndGlyphs" >0.12</text>
<text x="1034.2" y="661.72" font-size="8" fill="#a06a20" textLength="55.3" lengthAdjust="spacingAndGlyphs" >based on STPC:</text>
<text x="1138" y="661.72" font-size="8" fill="#a06a20" textLength="14.4" lengthAdjust="spacingAndGlyphs" >0.12</text>
<text x="1034.2" y="669.65" font-size="8" fill="#fff" textLength="67.8" lengthAdjust="spacingAndGlyphs" >based on STP_fixed:</text>
<text x="1138" y="669.65" font-size="8" fill="#fff" textLength="14.4" lengthAdjust="spacingAndGlyphs" >0.17</text>
<rect x="2.5" y="585.3" width="1175.5" height="191.5" fill="none" stroke="#38a0dc" stroke-width="3" />
<line x1="297.5" y1="585" x2="297.5" y2="777" stroke="#38a0dc" stroke-width="1.2" />
<line x1="590.5" y1="585" x2="590.5" y2="777" stroke="#38a0dc" stroke-width="1.2" />
<line x1="884.5" y1="585" x2="884.5" y2="777" stroke="#38a0dc" stroke-width="1.2" />
<rect x="1177" y="585" width="2" height="192" fill="#38a0dc" stroke="none" stroke-width="1" />
<text x="31.3" y="15.9" font-size="14" fill="#fff" textLength="207.1" lengthAdjust="spacingAndGlyphs" xml:space="preserve">KOUN   20190528/1900  (Observed)</text>
<text x="1041.7" y="15.5" font-size="11" fill="#fff" textLength="133.2" lengthAdjust="spacingAndGlyphs" >SHARPpy Beta v1.3.0 Xenia</text>
</svg>
</body></html>
